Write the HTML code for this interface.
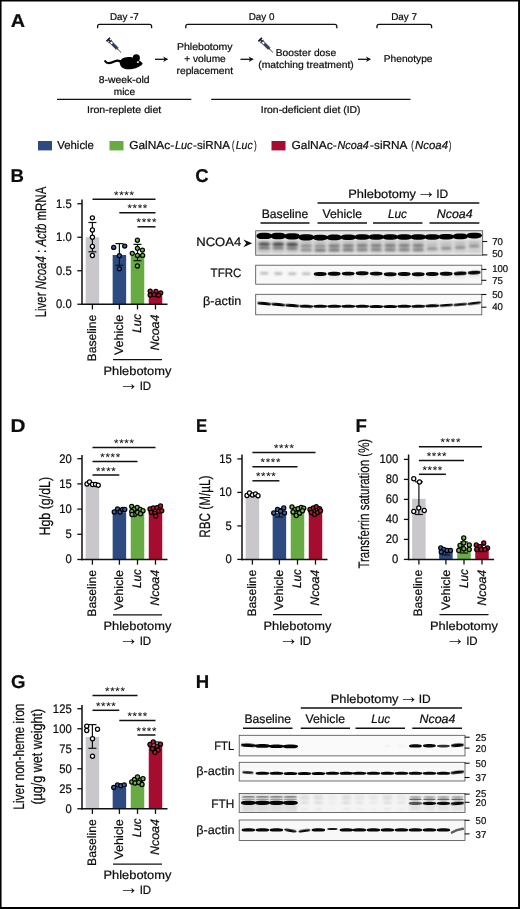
<!DOCTYPE html>
<html lang="en"><head><meta charset="utf-8"><title>Figure</title>
<style>
html,body{margin:0;padding:0;background:#fff;}
body{width:520px;height:909px;overflow:hidden;position:relative;}
svg{display:block;position:absolute;left:0;top:0;}
svg text{font-family:"Liberation Sans", sans-serif;fill:#0d0d0d;text-rendering:geometricPrecision;stroke:#0d0d0d;stroke-width:0.22px;}
</style></head><body>
<svg width="520" height="909" viewBox="0 0 520 909">
<defs><filter id="b1" x="-20%" y="-100%" width="140%" height="300%"><feGaussianBlur stdDeviation="0.75 0.6"/></filter><filter id="b2" x="-20%" y="-100%" width="140%" height="300%"><feGaussianBlur stdDeviation="1.1 0.8"/></filter><filter id="b3" x="-30%" y="-30%" width="160%" height="160%"><feGaussianBlur stdDeviation="1.6 1.4"/></filter><clipPath id="cC1"><rect x="255.7" y="230.75" width="227.0" height="24.44999999999999"/></clipPath><clipPath id="cC2"><rect x="255.7" y="265.2" width="226.2" height="19.0"/></clipPath><clipPath id="cC3"><rect x="255.7" y="294.3" width="226.2" height="20.5"/></clipPath><clipPath id="cH1"><rect x="239.2" y="735.3" width="225.8" height="20.600000000000023"/></clipPath><clipPath id="cH2"><rect x="239.2" y="762.3" width="225.8" height="18.700000000000045"/></clipPath><clipPath id="cH3"><rect x="239.2" y="793.6" width="225.8" height="18.899999999999977"/></clipPath><clipPath id="cH4"><rect x="239.2" y="820" width="225.8" height="20.5"/></clipPath></defs>
<text x="10.80" y="26.60" font-size="18.6" font-weight="bold" textLength="14.30" lengthAdjust="spacingAndGlyphs">A</text>
<text x="110.00" y="19.50" font-size="9.9" textLength="28.75" lengthAdjust="spacingAndGlyphs">Day -7</text>
<text x="248.75" y="19.50" font-size="9.9" textLength="25.75" lengthAdjust="spacingAndGlyphs">Day 0</text>
<text x="391.25" y="19.50" font-size="9.9" textLength="25.75" lengthAdjust="spacingAndGlyphs">Day 7</text>
<path d="M97.60 28.20 V26.30 Q97.60 24.30 99.60 24.30 H149.60 Q151.60 24.30 151.60 26.30 V28.20" fill="none" stroke="#111" stroke-width="1.3"/>
<path d="M185.80 28.20 V26.30 Q185.80 24.30 187.80 24.30 H334.80 Q336.80 24.30 336.80 26.30 V28.20" fill="none" stroke="#111" stroke-width="1.3"/>
<path d="M377.00 28.20 V26.30 Q377.00 24.30 379.00 24.30 H429.60 Q431.60 24.30 431.60 26.30 V28.20" fill="none" stroke="#111" stroke-width="1.3"/>
<g transform="translate(107.10 38.50) rotate(45)"><rect x="0.7" y="-2.5" width="1.9" height="5" rx="0.4" fill="#131a2e"/><rect x="2.5" y="-0.8" width="1.3" height="1.6" fill="#131a2e"/><rect x="3.6" y="-2.2" width="1.2" height="4.4" rx="0.3" fill="#131a2e"/><rect x="4.8" y="-1.3" width="9.2" height="2.6" fill="#fff" stroke="#131a2e" stroke-width="0.8"/><rect x="7.4" y="-1.1" width="6.4" height="2.2" fill="#1f2945"/><rect x="8" y="-0.35" width="5" height="0.7" fill="#46527c"/><rect x="14" y="-0.6" width="1.3" height="1.2" fill="#131a2e"/><rect x="15.2" y="-0.25" width="4.6" height="0.5" fill="#131a2e"/></g>
<g transform="translate(104.30 54.00)" fill="#000"><path d="M0.9 7.2 C2.6 10.2 7 9.0 10.5 7.3 C13.2 6.1 15.6 6.6 17.4 8.6" fill="none" stroke="#000" stroke-width="2.1" stroke-linecap="round"/><path d="M15.5 9.5 C15 5.5 19 3.2 24 3.0 C27 2.9 29 3.5 30.5 4.5 C33.5 5.5 36.5 7.2 38.3 9.2 C38.3 10.6 36.5 11.8 33.5 13.2 C30.5 14.8 26 15.6 22 15.2 C18.5 14.8 16 12.8 15.5 9.5 Z"/><ellipse cx="32" cy="3.9" rx="3.6" ry="3.6"/><ellipse cx="33.6" cy="8.1" rx="1.1" ry="0.9" fill="#fff"/></g>
<line x1="155.00" y1="59.30" x2="167.20" y2="59.30" stroke="#111" stroke-width="1.3" stroke-linecap="butt"/>
<path d="M168.20 59.30 L163.20 56.60 L164.60 59.30 L163.20 62.00 Z" fill="#111"/>
<text x="177.00" y="49.70" font-size="9.9" textLength="55.50" lengthAdjust="spacingAndGlyphs">Phlebotomy</text>
<text x="184.25" y="61.90" font-size="9.9" textLength="41.50" lengthAdjust="spacingAndGlyphs">+ volume</text>
<text x="176.50" y="74.00" font-size="9.9" textLength="56.50" lengthAdjust="spacingAndGlyphs">replacement</text>
<line x1="240.50" y1="59.30" x2="252.70" y2="59.30" stroke="#111" stroke-width="1.3" stroke-linecap="butt"/>
<path d="M253.70 59.30 L248.70 56.60 L250.10 59.30 L248.70 62.00 Z" fill="#111"/>
<g transform="translate(259.00 38.50) rotate(45)"><rect x="0.7" y="-2.5" width="1.9" height="5" rx="0.4" fill="#131a2e"/><rect x="2.5" y="-0.8" width="1.3" height="1.6" fill="#131a2e"/><rect x="3.6" y="-2.2" width="1.2" height="4.4" rx="0.3" fill="#131a2e"/><rect x="4.8" y="-1.3" width="9.2" height="2.6" fill="#fff" stroke="#131a2e" stroke-width="0.8"/><rect x="7.4" y="-1.1" width="6.4" height="2.2" fill="#1f2945"/><rect x="8" y="-0.35" width="5" height="0.7" fill="#46527c"/><rect x="14" y="-0.6" width="1.3" height="1.2" fill="#131a2e"/><rect x="15.2" y="-0.25" width="4.6" height="0.5" fill="#131a2e"/></g>
<text x="275.80" y="55.60" font-size="9.9" textLength="60.30" lengthAdjust="spacingAndGlyphs">Booster dose</text>
<text x="258.25" y="67.80" font-size="9.9" textLength="95.50" lengthAdjust="spacingAndGlyphs">(matching treatment)</text>
<line x1="358.00" y1="59.30" x2="370.00" y2="59.30" stroke="#111" stroke-width="1.3" stroke-linecap="butt"/>
<path d="M371.00 59.30 L366.00 56.60 L367.40 59.30 L366.00 62.00 Z" fill="#111"/>
<text x="383.75" y="61.90" font-size="9.9" textLength="48.75" lengthAdjust="spacingAndGlyphs">Phenotype</text>
<text x="98.75" y="83.00" font-size="9.9" textLength="50.75" lengthAdjust="spacingAndGlyphs">8-week-old</text>
<text x="113.75" y="95.00" font-size="9.9" textLength="21.25" lengthAdjust="spacingAndGlyphs">mice</text>
<line x1="57.00" y1="99.40" x2="191.30" y2="99.40" stroke="#111" stroke-width="1.3" stroke-linecap="butt"/>
<line x1="211.20" y1="99.40" x2="410.50" y2="99.40" stroke="#111" stroke-width="1.3" stroke-linecap="butt"/>
<text x="87.00" y="112.50" font-size="9.9" textLength="74.25" lengthAdjust="spacingAndGlyphs">Iron-replete diet</text>
<text x="260.75" y="112.50" font-size="9.9" textLength="99.75" lengthAdjust="spacingAndGlyphs">Iron-deficient diet (ID)</text>
<rect x="38.00" y="141.00" width="14.00" height="9.40" fill="#2d4b80"/>
<text x="57.30" y="149.30" font-size="11.5" textLength="36.60" lengthAdjust="spacingAndGlyphs">Vehicle</text>
<rect x="109.50" y="141.00" width="14.00" height="9.40" fill="#68ab42"/>
<text x="129.20" y="149.30" font-size="11.5" textLength="44.98" lengthAdjust="spacingAndGlyphs">GalNAc-</text>
<text x="175.10" y="149.30" font-size="11.5" font-style="italic" textLength="17.43" lengthAdjust="spacingAndGlyphs">Luc</text>
<text x="193.10" y="149.30" font-size="11.5" textLength="36.86" lengthAdjust="spacingAndGlyphs">-siRNA</text>
<text x="232.10" y="149.30" font-size="11.5" textLength="2.29" lengthAdjust="spacingAndGlyphs">(</text>
<text x="235.80" y="149.30" font-size="11.5" font-style="italic" textLength="16.82" lengthAdjust="spacingAndGlyphs">Luc</text>
<text x="254.20" y="149.30" font-size="11.5" textLength="2.39" lengthAdjust="spacingAndGlyphs">)</text>
<rect x="271.50" y="141.00" width="14.00" height="9.40" fill="#a60c2f"/>
<text x="291.40" y="149.30" font-size="11.5" textLength="45.28" lengthAdjust="spacingAndGlyphs">GalNAc-</text>
<text x="337.60" y="149.30" font-size="11.5" font-style="italic" textLength="31.11" lengthAdjust="spacingAndGlyphs">Ncoa4</text>
<text x="370.10" y="149.30" font-size="11.5" textLength="37.36" lengthAdjust="spacingAndGlyphs">-siRNA</text>
<text x="411.30" y="149.30" font-size="11.5" textLength="2.39" lengthAdjust="spacingAndGlyphs">(</text>
<text x="415.10" y="149.30" font-size="11.5" font-style="italic" textLength="32.91" lengthAdjust="spacingAndGlyphs">Ncoa4</text>
<text x="449.00" y="149.30" font-size="11.5" textLength="2.29" lengthAdjust="spacingAndGlyphs">)</text>
<text x="10.60" y="181.90" font-size="18.6" font-weight="bold">B</text>
<rect x="85.65" y="237.25" width="13.50" height="67.00" fill="#c9c7cc"/>
<rect x="112.65" y="255.00" width="13.50" height="49.25" fill="#2d4b80"/>
<rect x="130.75" y="255.50" width="13.50" height="48.75" fill="#68ab42"/>
<rect x="148.75" y="294.60" width="13.50" height="9.65" fill="#a60c2f"/>
<line x1="82.00" y1="199.50" x2="82.00" y2="305.00" stroke="#111" stroke-width="1.5" stroke-linecap="butt"/>
<line x1="81.25" y1="304.25" x2="167.50" y2="304.25" stroke="#111" stroke-width="1.5" stroke-linecap="butt"/>
<line x1="77.30" y1="203.75" x2="82.00" y2="203.75" stroke="#111" stroke-width="1.3" stroke-linecap="butt"/>
<text x="71.70" y="207.70" font-size="12.4" text-anchor="end" textLength="15.69" lengthAdjust="spacingAndGlyphs">1.5</text>
<line x1="77.30" y1="237.25" x2="82.00" y2="237.25" stroke="#111" stroke-width="1.3" stroke-linecap="butt"/>
<text x="71.70" y="241.20" font-size="12.4" text-anchor="end" textLength="15.69" lengthAdjust="spacingAndGlyphs">1.0</text>
<line x1="77.30" y1="270.75" x2="82.00" y2="270.75" stroke="#111" stroke-width="1.3" stroke-linecap="butt"/>
<text x="71.70" y="274.70" font-size="12.4" text-anchor="end" textLength="15.69" lengthAdjust="spacingAndGlyphs">0.5</text>
<line x1="77.30" y1="304.25" x2="82.00" y2="304.25" stroke="#111" stroke-width="1.3" stroke-linecap="butt"/>
<text x="71.70" y="308.20" font-size="12.4" text-anchor="end" textLength="15.69" lengthAdjust="spacingAndGlyphs">0.0</text>
<line x1="92.40" y1="304.25" x2="92.40" y2="309.45" stroke="#111" stroke-width="1.3" stroke-linecap="butt"/>
<line x1="119.40" y1="304.25" x2="119.40" y2="309.45" stroke="#111" stroke-width="1.3" stroke-linecap="butt"/>
<line x1="137.50" y1="304.25" x2="137.50" y2="309.45" stroke="#111" stroke-width="1.3" stroke-linecap="butt"/>
<line x1="155.50" y1="304.25" x2="155.50" y2="309.45" stroke="#111" stroke-width="1.3" stroke-linecap="butt"/>
<line x1="92.40" y1="222.50" x2="92.40" y2="251.80" stroke="#111" stroke-width="1.2" stroke-linecap="butt"/>
<line x1="88.40" y1="222.50" x2="96.40" y2="222.50" stroke="#111" stroke-width="1.2" stroke-linecap="butt"/>
<line x1="88.40" y1="251.80" x2="96.40" y2="251.80" stroke="#111" stroke-width="1.2" stroke-linecap="butt"/>
<circle cx="92.40" cy="217.80" r="2.05" fill="#fff" stroke="#000" stroke-width="1.25"/>
<circle cx="92.40" cy="230.00" r="2.05" fill="#fff" stroke="#000" stroke-width="1.25"/>
<circle cx="92.40" cy="237.20" r="2.05" fill="#fff" stroke="#000" stroke-width="1.25"/>
<circle cx="92.40" cy="246.50" r="2.05" fill="#fff" stroke="#000" stroke-width="1.25"/>
<circle cx="92.40" cy="255.50" r="2.05" fill="#fff" stroke="#000" stroke-width="1.25"/>
<line x1="119.40" y1="243.60" x2="119.40" y2="265.30" stroke="#111" stroke-width="1.2" stroke-linecap="butt"/>
<line x1="115.40" y1="243.60" x2="123.40" y2="243.60" stroke="#111" stroke-width="1.2" stroke-linecap="butt"/>
<line x1="115.40" y1="265.30" x2="123.40" y2="265.30" stroke="#111" stroke-width="1.2" stroke-linecap="butt"/>
<circle cx="113.70" cy="247.40" r="2.05" fill="#3a62a8" stroke="#000" stroke-width="1.25"/>
<circle cx="124.70" cy="246.10" r="2.05" fill="#3a62a8" stroke="#000" stroke-width="1.25"/>
<circle cx="119.40" cy="255.70" r="2.05" fill="#3a62a8" stroke="#000" stroke-width="1.25"/>
<circle cx="119.40" cy="268.80" r="2.05" fill="#3a62a8" stroke="#000" stroke-width="1.25"/>
<line x1="137.50" y1="244.40" x2="137.50" y2="260.70" stroke="#111" stroke-width="1.2" stroke-linecap="butt"/>
<line x1="133.50" y1="244.40" x2="141.50" y2="244.40" stroke="#111" stroke-width="1.2" stroke-linecap="butt"/>
<line x1="133.50" y1="260.70" x2="141.50" y2="260.70" stroke="#111" stroke-width="1.2" stroke-linecap="butt"/>
<circle cx="137.40" cy="240.20" r="2.05" fill="#74bb44" stroke="#000" stroke-width="1.25"/>
<circle cx="137.40" cy="248.30" r="2.05" fill="#74bb44" stroke="#000" stroke-width="1.25"/>
<circle cx="142.40" cy="250.10" r="2.05" fill="#74bb44" stroke="#000" stroke-width="1.25"/>
<circle cx="132.30" cy="253.40" r="2.05" fill="#74bb44" stroke="#000" stroke-width="1.25"/>
<circle cx="137.40" cy="255.40" r="2.05" fill="#74bb44" stroke="#000" stroke-width="1.25"/>
<circle cx="142.60" cy="255.40" r="2.05" fill="#74bb44" stroke="#000" stroke-width="1.25"/>
<circle cx="137.40" cy="266.00" r="2.05" fill="#74bb44" stroke="#000" stroke-width="1.25"/>
<circle cx="150.20" cy="291.10" r="2.05" fill="#c4102f" stroke="#000" stroke-width="1.25"/>
<circle cx="155.90" cy="291.50" r="2.05" fill="#c4102f" stroke="#000" stroke-width="1.25"/>
<circle cx="160.70" cy="292.80" r="2.05" fill="#c4102f" stroke="#000" stroke-width="1.25"/>
<circle cx="150.20" cy="295.00" r="2.05" fill="#c4102f" stroke="#000" stroke-width="1.25"/>
<circle cx="154.10" cy="294.60" r="2.05" fill="#c4102f" stroke="#000" stroke-width="1.25"/>
<circle cx="158.50" cy="295.30" r="2.05" fill="#c4102f" stroke="#000" stroke-width="1.25"/>
<line x1="92.50" y1="199.30" x2="155.50" y2="199.30" stroke="#111" stroke-width="1.5" stroke-linecap="butt"/>
<text x="124.30" y="198.80" font-size="11.4" text-anchor="middle" letter-spacing="0.72" style="stroke-width:0.05px">****</text>
<line x1="119.30" y1="212.80" x2="155.50" y2="212.80" stroke="#111" stroke-width="1.5" stroke-linecap="butt"/>
<text x="137.70" y="212.30" font-size="11.4" text-anchor="middle" letter-spacing="0.72" style="stroke-width:0.05px">****</text>
<line x1="137.50" y1="226.80" x2="155.50" y2="226.80" stroke="#111" stroke-width="1.5" stroke-linecap="butt"/>
<text x="146.80" y="226.30" font-size="11.4" text-anchor="middle" letter-spacing="0.72" style="stroke-width:0.05px">****</text>
<text x="96.00" y="314.65" font-size="12.3" text-anchor="end" textLength="46.80" lengthAdjust="spacingAndGlyphs" transform="rotate(-90 96.00 314.65)">Baseline</text>
<text x="123.30" y="314.65" font-size="12.3" text-anchor="end" textLength="40.40" lengthAdjust="spacingAndGlyphs" transform="rotate(-90 123.30 314.65)">Vehicle</text>
<text x="141.40" y="313.85" font-size="12.3" text-anchor="end" font-style="italic" textLength="19.00" lengthAdjust="spacingAndGlyphs" transform="rotate(-90 141.40 313.85)">Luc</text>
<text x="159.40" y="314.55" font-size="12.3" text-anchor="end" font-style="italic" textLength="36.00" lengthAdjust="spacingAndGlyphs" transform="rotate(-90 159.40 314.55)">Ncoa4</text>
<line x1="113.00" y1="359.55" x2="162.00" y2="359.55" stroke="#111" stroke-width="1.3" stroke-linecap="butt"/>
<text x="103.55" y="374.65" font-size="12.1" textLength="67.80" lengthAdjust="spacingAndGlyphs">Phlebotomy</text>
<text x="119.09" y="389.97" font-size="20" textLength="19.43" lengthAdjust="spacingAndGlyphs" style="stroke-width:0">→</text>
<text x="139.65" y="389.85" font-size="12.1" textLength="11.50" lengthAdjust="spacingAndGlyphs">ID</text>
<text x="46" y="317.3" font-size="15.2" transform="rotate(-90 46 317.3)" textLength="130.6" lengthAdjust="spacingAndGlyphs">Liver <tspan font-style="italic">Ncoa4</tspan> : <tspan font-style="italic">Actb</tspan> mRNA</text>
<text x="195.20" y="182.00" font-size="18.6" font-weight="bold">C</text>
<line x1="260.50" y1="223.00" x2="309.50" y2="223.00" stroke="#111" stroke-width="1.5" stroke-linecap="butt"/>
<line x1="317.50" y1="223.00" x2="367.00" y2="223.00" stroke="#111" stroke-width="1.5" stroke-linecap="butt"/>
<line x1="373.00" y1="223.00" x2="422.50" y2="223.00" stroke="#111" stroke-width="1.5" stroke-linecap="butt"/>
<line x1="429.50" y1="223.00" x2="479.30" y2="223.00" stroke="#111" stroke-width="1.5" stroke-linecap="butt"/>
<line x1="317.50" y1="203.00" x2="479.30" y2="203.00" stroke="#111" stroke-width="1.5" stroke-linecap="butt"/>
<text x="261.75" y="218.00" font-size="12.2" textLength="46.50" lengthAdjust="spacingAndGlyphs">Baseline</text>
<text x="322.50" y="218.00" font-size="12.2" textLength="39.50" lengthAdjust="spacingAndGlyphs">Vehicle</text>
<text x="388.00" y="218.00" font-size="12.2" font-style="italic" textLength="19.00" lengthAdjust="spacingAndGlyphs">Luc</text>
<text x="436.75" y="218.00" font-size="12.2" font-style="italic" textLength="35.80" lengthAdjust="spacingAndGlyphs">Ncoa4</text>
<text x="348.25" y="197.50" font-size="12.1" textLength="67.80" lengthAdjust="spacingAndGlyphs">Phlebotomy</text>
<text x="416.49" y="197.62" font-size="20" textLength="19.43" lengthAdjust="spacingAndGlyphs" style="stroke-width:0">→</text>
<text x="436.25" y="197.50" font-size="12.1" textLength="12.00" lengthAdjust="spacingAndGlyphs">ID</text>
<g clip-path="url(#cC1)">
<rect x="255.70" y="230.75" width="227.10" height="24.40" fill="#e4e4e4"/>
<rect x="255.70" y="240.50" width="227.10" height="12.00" fill="#dadada"/>
<rect x="258.70" y="240.00" width="11.00" height="13.00" fill="#000" opacity="0.10" filter="url(#b3)"/>
<rect x="256.40" y="232.75" width="15.60" height="6.30" rx="5.62" ry="3.15" fill="#000" opacity="1.00" filter="url(#b1)"/>
<rect x="258.27" y="242.40" width="11.86" height="3.40" rx="4.27" ry="1.70" fill="#000" opacity="0.62" filter="url(#b2)"/>
<rect x="258.27" y="246.80" width="11.86" height="2.20" rx="4.27" ry="1.10" fill="#000" opacity="0.48" filter="url(#b2)"/>
<rect x="272.70" y="240.00" width="11.00" height="13.00" fill="#000" opacity="0.10" filter="url(#b3)"/>
<rect x="270.40" y="232.85" width="15.60" height="6.30" rx="5.62" ry="3.15" fill="#000" opacity="1.00" filter="url(#b1)"/>
<rect x="272.27" y="242.50" width="11.86" height="3.40" rx="4.27" ry="1.70" fill="#000" opacity="0.62" filter="url(#b2)"/>
<rect x="272.27" y="246.90" width="11.86" height="2.20" rx="4.27" ry="1.10" fill="#000" opacity="0.48" filter="url(#b2)"/>
<rect x="286.70" y="240.00" width="11.00" height="13.00" fill="#000" opacity="0.10" filter="url(#b3)"/>
<rect x="284.40" y="233.15" width="15.60" height="6.30" rx="5.62" ry="3.15" fill="#000" opacity="1.00" filter="url(#b1)"/>
<rect x="286.27" y="242.80" width="11.86" height="3.40" rx="4.27" ry="1.70" fill="#000" opacity="0.62" filter="url(#b2)"/>
<rect x="286.27" y="247.20" width="11.86" height="2.20" rx="4.27" ry="1.10" fill="#000" opacity="0.48" filter="url(#b2)"/>
<rect x="300.70" y="240.00" width="11.00" height="13.00" fill="#000" opacity="0.10" filter="url(#b3)"/>
<rect x="298.40" y="234.15" width="15.60" height="6.30" rx="5.62" ry="3.15" fill="#000" opacity="1.00" filter="url(#b1)"/>
<rect x="300.38" y="244.50" width="11.65" height="2.80" rx="4.19" ry="1.40" fill="#000" opacity="0.28" filter="url(#b2)"/>
<rect x="300.38" y="248.70" width="11.65" height="2.40" rx="4.19" ry="1.20" fill="#000" opacity="0.30" filter="url(#b2)"/>
<rect x="314.70" y="240.00" width="11.00" height="13.00" fill="#000" opacity="0.10" filter="url(#b3)"/>
<rect x="312.40" y="234.80" width="15.60" height="5.60" rx="5.62" ry="2.80" fill="#000" opacity="1.00" filter="url(#b1)"/>
<rect x="314.38" y="244.80" width="11.65" height="2.80" rx="4.19" ry="1.40" fill="#000" opacity="0.28" filter="url(#b2)"/>
<rect x="314.38" y="249.00" width="11.65" height="2.40" rx="4.19" ry="1.20" fill="#000" opacity="0.42" filter="url(#b2)"/>
<rect x="328.70" y="240.00" width="11.00" height="13.00" fill="#000" opacity="0.10" filter="url(#b3)"/>
<rect x="326.40" y="234.60" width="15.60" height="5.60" rx="5.62" ry="2.80" fill="#000" opacity="1.00" filter="url(#b1)"/>
<rect x="328.38" y="244.60" width="11.65" height="2.80" rx="4.19" ry="1.40" fill="#000" opacity="0.40" filter="url(#b2)"/>
<rect x="328.38" y="248.80" width="11.65" height="2.40" rx="4.19" ry="1.20" fill="#000" opacity="0.42" filter="url(#b2)"/>
<rect x="342.70" y="240.00" width="11.00" height="13.00" fill="#000" opacity="0.10" filter="url(#b3)"/>
<rect x="340.40" y="234.40" width="15.60" height="5.60" rx="5.62" ry="2.80" fill="#000" opacity="1.00" filter="url(#b1)"/>
<rect x="342.38" y="244.40" width="11.65" height="2.80" rx="4.19" ry="1.40" fill="#000" opacity="0.40" filter="url(#b2)"/>
<rect x="342.38" y="248.60" width="11.65" height="2.40" rx="4.19" ry="1.20" fill="#000" opacity="0.42" filter="url(#b2)"/>
<rect x="356.70" y="240.00" width="11.00" height="13.00" fill="#000" opacity="0.10" filter="url(#b3)"/>
<rect x="354.40" y="234.20" width="15.60" height="5.60" rx="5.62" ry="2.80" fill="#000" opacity="1.00" filter="url(#b1)"/>
<rect x="356.38" y="244.20" width="11.65" height="2.80" rx="4.19" ry="1.40" fill="#000" opacity="0.40" filter="url(#b2)"/>
<rect x="356.38" y="248.40" width="11.65" height="2.40" rx="4.19" ry="1.20" fill="#000" opacity="0.42" filter="url(#b2)"/>
<rect x="370.70" y="240.00" width="11.00" height="13.00" fill="#000" opacity="0.10" filter="url(#b3)"/>
<rect x="368.40" y="234.20" width="15.60" height="5.60" rx="5.62" ry="2.80" fill="#000" opacity="1.00" filter="url(#b1)"/>
<rect x="370.38" y="244.20" width="11.65" height="2.80" rx="4.19" ry="1.40" fill="#000" opacity="0.40" filter="url(#b2)"/>
<rect x="370.38" y="248.40" width="11.65" height="2.40" rx="4.19" ry="1.20" fill="#000" opacity="0.42" filter="url(#b2)"/>
<rect x="384.70" y="240.00" width="11.00" height="13.00" fill="#000" opacity="0.10" filter="url(#b3)"/>
<rect x="382.40" y="234.20" width="15.60" height="5.60" rx="5.62" ry="2.80" fill="#000" opacity="1.00" filter="url(#b1)"/>
<rect x="384.38" y="244.20" width="11.65" height="2.80" rx="4.19" ry="1.40" fill="#000" opacity="0.40" filter="url(#b2)"/>
<rect x="384.38" y="248.40" width="11.65" height="2.40" rx="4.19" ry="1.20" fill="#000" opacity="0.42" filter="url(#b2)"/>
<rect x="398.70" y="240.00" width="11.00" height="13.00" fill="#000" opacity="0.10" filter="url(#b3)"/>
<rect x="396.40" y="234.20" width="15.60" height="5.60" rx="5.62" ry="2.80" fill="#000" opacity="1.00" filter="url(#b1)"/>
<rect x="398.38" y="244.20" width="11.65" height="2.80" rx="4.19" ry="1.40" fill="#000" opacity="0.40" filter="url(#b2)"/>
<rect x="398.38" y="248.40" width="11.65" height="2.40" rx="4.19" ry="1.20" fill="#000" opacity="0.42" filter="url(#b2)"/>
<rect x="412.70" y="240.00" width="11.00" height="13.00" fill="#000" opacity="0.10" filter="url(#b3)"/>
<rect x="410.40" y="234.20" width="15.60" height="5.60" rx="5.62" ry="2.80" fill="#000" opacity="1.00" filter="url(#b1)"/>
<rect x="412.38" y="244.20" width="11.65" height="2.80" rx="4.19" ry="1.40" fill="#000" opacity="0.40" filter="url(#b2)"/>
<rect x="412.38" y="248.40" width="11.65" height="2.40" rx="4.19" ry="1.20" fill="#000" opacity="0.42" filter="url(#b2)"/>
<rect x="426.70" y="240.00" width="11.00" height="13.00" fill="#000" opacity="0.05" filter="url(#b3)"/>
<rect x="424.40" y="234.20" width="15.60" height="5.60" rx="5.62" ry="2.80" fill="#000" opacity="1.00" filter="url(#b1)"/>
<rect x="426.48" y="244.00" width="11.44" height="2.00" rx="4.12" ry="1.00" fill="#000" opacity="0.10" filter="url(#b2)"/>
<rect x="426.69" y="247.40" width="11.02" height="2.40" rx="3.97" ry="1.20" fill="#000" opacity="0.36" filter="url(#b2)"/>
<rect x="440.70" y="240.00" width="11.00" height="13.00" fill="#000" opacity="0.05" filter="url(#b3)"/>
<rect x="438.40" y="234.00" width="15.60" height="5.60" rx="5.62" ry="2.80" fill="#000" opacity="1.00" filter="url(#b1)"/>
<rect x="440.48" y="243.70" width="11.44" height="2.00" rx="4.12" ry="1.00" fill="#000" opacity="0.10" filter="url(#b2)"/>
<rect x="440.69" y="247.04" width="11.02" height="2.40" rx="3.97" ry="1.20" fill="#000" opacity="0.36" filter="url(#b2)"/>
<rect x="454.70" y="240.00" width="11.00" height="13.00" fill="#000" opacity="0.05" filter="url(#b3)"/>
<rect x="452.40" y="233.60" width="15.60" height="5.60" rx="5.62" ry="2.80" fill="#000" opacity="1.00" filter="url(#b1)"/>
<rect x="454.48" y="243.10" width="11.44" height="2.00" rx="4.12" ry="1.00" fill="#000" opacity="0.10" filter="url(#b2)"/>
<rect x="454.69" y="246.32" width="11.02" height="2.40" rx="3.97" ry="1.20" fill="#000" opacity="0.36" filter="url(#b2)"/>
<rect x="468.70" y="240.00" width="11.00" height="13.00" fill="#000" opacity="0.05" filter="url(#b3)"/>
<rect x="466.40" y="232.80" width="15.60" height="5.60" rx="5.62" ry="2.80" fill="#000" opacity="1.00" filter="url(#b1)"/>
<rect x="468.48" y="241.90" width="11.44" height="2.00" rx="4.12" ry="1.00" fill="#000" opacity="0.10" filter="url(#b2)"/>
<rect x="468.69" y="244.88" width="11.02" height="2.40" rx="3.97" ry="1.20" fill="#000" opacity="0.36" filter="url(#b2)"/>
</g>
<rect x="255.70" y="230.75" width="227.00" height="24.45" fill="none" stroke="#4a4a4a" stroke-width="0.8"/>
<line x1="482.40" y1="241.50" x2="487.30" y2="241.50" stroke="#111" stroke-width="1.1" stroke-linecap="butt"/>
<text x="492.20" y="245.10" font-size="9.9" textLength="10.68" lengthAdjust="spacingAndGlyphs">70</text>
<line x1="482.40" y1="254.90" x2="487.30" y2="254.90" stroke="#111" stroke-width="1.1" stroke-linecap="butt"/>
<text x="492.20" y="256.60" font-size="9.9" textLength="10.68" lengthAdjust="spacingAndGlyphs">50</text>
<text x="196.25" y="246.40" font-size="12.2" textLength="45.00" lengthAdjust="spacingAndGlyphs">NCOA4</text>
<path d="M243.3 239.4 L252.2 243.3 L243.3 247.2 L246.2 243.3 Z" fill="#111"/>
<g clip-path="url(#cC2)">
<rect x="255.70" y="265.00" width="226.10" height="19.40" fill="#f8f8f8"/>
<rect x="259.78" y="272.00" width="8.84" height="2.60" rx="3.18" ry="1.30" fill="#000" opacity="0.26" filter="url(#b2)"/>
<rect x="273.78" y="272.30" width="8.84" height="2.60" rx="3.18" ry="1.30" fill="#000" opacity="0.26" filter="url(#b2)"/>
<rect x="287.78" y="272.50" width="8.84" height="2.60" rx="3.18" ry="1.30" fill="#000" opacity="0.26" filter="url(#b2)"/>
<rect x="301.78" y="272.50" width="8.84" height="2.60" rx="3.18" ry="1.30" fill="#000" opacity="0.26" filter="url(#b2)"/>
<rect x="313.75" y="272.05" width="12.90" height="3.90" rx="4.64" ry="1.95" fill="#000" opacity="0.96" filter="url(#b1)"/>
<rect x="314.70" y="273.00" width="11.00" height="6.00" fill="#000" opacity="0.06" filter="url(#b3)"/>
<rect x="327.75" y="271.85" width="12.90" height="3.90" rx="4.64" ry="1.95" fill="#000" opacity="0.96" filter="url(#b1)"/>
<rect x="328.70" y="272.80" width="11.00" height="6.00" fill="#000" opacity="0.06" filter="url(#b3)"/>
<rect x="341.75" y="271.65" width="12.90" height="3.90" rx="4.64" ry="1.95" fill="#000" opacity="0.96" filter="url(#b1)"/>
<rect x="342.70" y="272.60" width="11.00" height="6.00" fill="#000" opacity="0.06" filter="url(#b3)"/>
<rect x="355.75" y="271.25" width="12.90" height="3.90" rx="4.64" ry="1.95" fill="#000" opacity="0.96" filter="url(#b1)"/>
<rect x="356.70" y="272.20" width="11.00" height="6.00" fill="#000" opacity="0.06" filter="url(#b3)"/>
<rect x="369.75" y="271.65" width="12.90" height="3.90" rx="4.64" ry="1.95" fill="#000" opacity="0.96" filter="url(#b1)"/>
<rect x="370.70" y="272.60" width="11.00" height="6.00" fill="#000" opacity="0.06" filter="url(#b3)"/>
<rect x="383.75" y="272.25" width="12.90" height="3.90" rx="4.64" ry="1.95" fill="#000" opacity="0.96" filter="url(#b1)"/>
<rect x="384.70" y="273.20" width="11.00" height="6.00" fill="#000" opacity="0.06" filter="url(#b3)"/>
<rect x="397.75" y="272.05" width="12.90" height="3.90" rx="4.64" ry="1.95" fill="#000" opacity="0.96" filter="url(#b1)"/>
<rect x="398.70" y="273.00" width="11.00" height="6.00" fill="#000" opacity="0.06" filter="url(#b3)"/>
<rect x="411.75" y="272.25" width="12.90" height="3.90" rx="4.64" ry="1.95" fill="#000" opacity="0.96" filter="url(#b1)"/>
<rect x="412.70" y="273.20" width="11.00" height="6.00" fill="#000" opacity="0.06" filter="url(#b3)"/>
<rect x="425.75" y="272.05" width="12.90" height="3.90" rx="4.64" ry="1.95" fill="#000" opacity="0.96" filter="url(#b1)"/>
<rect x="426.70" y="273.00" width="11.00" height="6.00" fill="#000" opacity="0.06" filter="url(#b3)"/>
<rect x="439.75" y="271.85" width="12.90" height="3.90" rx="4.64" ry="1.95" fill="#000" opacity="0.96" filter="url(#b1)"/>
<rect x="440.70" y="272.80" width="11.00" height="6.00" fill="#000" opacity="0.06" filter="url(#b3)"/>
<rect x="453.75" y="271.45" width="12.90" height="3.90" rx="4.64" ry="1.95" fill="#000" opacity="0.96" filter="url(#b1)" transform="rotate(-3.0 460.20 273.40)"/>
<rect x="454.70" y="272.40" width="11.00" height="6.00" fill="#000" opacity="0.06" filter="url(#b3)"/>
<rect x="467.75" y="270.65" width="12.90" height="3.90" rx="4.64" ry="1.95" fill="#000" opacity="0.96" filter="url(#b1)" transform="rotate(-3.0 474.20 272.60)"/>
<rect x="468.70" y="271.60" width="11.00" height="6.00" fill="#000" opacity="0.06" filter="url(#b3)"/>
</g>
<rect x="255.70" y="265.20" width="226.10" height="19.00" fill="none" stroke="#4a4a4a" stroke-width="0.8"/>
<line x1="481.50" y1="269.40" x2="486.40" y2="269.40" stroke="#111" stroke-width="1.1" stroke-linecap="butt"/>
<text x="492.20" y="272.10" font-size="9.9" textLength="16.02" lengthAdjust="spacingAndGlyphs">100</text>
<line x1="481.50" y1="280.30" x2="486.40" y2="280.30" stroke="#111" stroke-width="1.1" stroke-linecap="butt"/>
<text x="492.20" y="283.90" font-size="9.9" textLength="10.68" lengthAdjust="spacingAndGlyphs">75</text>
<text x="210.60" y="277.30" font-size="12.2" textLength="30.70" lengthAdjust="spacingAndGlyphs">TFRC</text>
<g clip-path="url(#cC3)">
<rect x="255.70" y="294.30" width="226.10" height="20.40" fill="#f9f9f9"/>
<rect x="257.23" y="302.10" width="13.94" height="3.00" rx="5.02" ry="1.50" fill="#000" opacity="0.97" filter="url(#b1)" transform="rotate(5.0 264.20 303.60)"/>
<rect x="271.23" y="303.10" width="13.94" height="3.00" rx="5.02" ry="1.50" fill="#000" opacity="0.97" filter="url(#b1)" transform="rotate(5.0 278.20 304.60)"/>
<rect x="285.23" y="304.00" width="13.94" height="3.00" rx="5.02" ry="1.50" fill="#000" opacity="0.97" filter="url(#b1)" transform="rotate(4.0 292.20 305.50)"/>
<rect x="299.23" y="304.70" width="13.94" height="3.00" rx="5.02" ry="1.50" fill="#000" opacity="0.97" filter="url(#b1)" transform="rotate(2.0 306.20 306.20)"/>
<rect x="313.23" y="304.80" width="13.94" height="3.00" rx="5.02" ry="1.50" fill="#000" opacity="0.97" filter="url(#b1)"/>
<rect x="327.23" y="304.80" width="13.94" height="3.00" rx="5.02" ry="1.50" fill="#000" opacity="0.97" filter="url(#b1)"/>
<rect x="341.23" y="304.80" width="13.94" height="3.00" rx="5.02" ry="1.50" fill="#000" opacity="0.97" filter="url(#b1)"/>
<rect x="355.23" y="304.80" width="13.94" height="3.00" rx="5.02" ry="1.50" fill="#000" opacity="0.97" filter="url(#b1)"/>
<rect x="369.23" y="304.90" width="13.94" height="3.00" rx="5.02" ry="1.50" fill="#000" opacity="0.97" filter="url(#b1)"/>
<rect x="383.23" y="304.90" width="13.94" height="3.00" rx="5.02" ry="1.50" fill="#000" opacity="0.97" filter="url(#b1)"/>
<rect x="397.23" y="304.80" width="13.94" height="3.00" rx="5.02" ry="1.50" fill="#000" opacity="0.97" filter="url(#b1)"/>
<rect x="411.23" y="304.70" width="13.94" height="3.00" rx="5.02" ry="1.50" fill="#000" opacity="0.97" filter="url(#b1)" transform="rotate(-1.0 418.20 306.20)"/>
<rect x="425.23" y="304.30" width="13.94" height="3.00" rx="5.02" ry="1.50" fill="#000" opacity="0.97" filter="url(#b1)" transform="rotate(-2.0 432.20 305.80)"/>
<rect x="439.23" y="303.95" width="13.94" height="2.50" rx="5.02" ry="1.25" fill="#000" opacity="0.97" filter="url(#b1)" transform="rotate(-4.0 446.20 305.20)"/>
<rect x="453.23" y="303.15" width="13.94" height="2.50" rx="5.02" ry="1.25" fill="#000" opacity="0.97" filter="url(#b1)" transform="rotate(-5.0 460.20 304.40)"/>
<rect x="467.23" y="301.95" width="13.94" height="2.50" rx="5.02" ry="1.25" fill="#000" opacity="0.97" filter="url(#b1)" transform="rotate(-7.0 474.20 303.20)"/>
</g>
<rect x="255.70" y="294.30" width="226.10" height="20.50" fill="none" stroke="#4a4a4a" stroke-width="0.8"/>
<line x1="481.50" y1="294.50" x2="486.40" y2="294.50" stroke="#111" stroke-width="1.1" stroke-linecap="butt"/>
<text x="492.20" y="297.90" font-size="9.9" textLength="10.68" lengthAdjust="spacingAndGlyphs">50</text>
<line x1="481.50" y1="307.20" x2="486.40" y2="307.20" stroke="#111" stroke-width="1.1" stroke-linecap="butt"/>
<text x="492.20" y="310.40" font-size="9.9" textLength="10.68" lengthAdjust="spacingAndGlyphs">40</text>
<text x="203" y="304.5" font-size="12.2" textLength="38.25" lengthAdjust="spacingAndGlyphs">β-actin</text>
<text x="10.50" y="432.20" font-size="18.6" font-weight="bold" textLength="15.00" lengthAdjust="spacingAndGlyphs">D</text>
<rect x="85.65" y="486.00" width="13.50" height="73.50" fill="#c9c7cc"/>
<rect x="112.65" y="512.20" width="13.50" height="47.30" fill="#2d4b80"/>
<rect x="130.75" y="511.20" width="13.50" height="48.30" fill="#68ab42"/>
<rect x="148.75" y="511.00" width="13.50" height="48.50" fill="#a60c2f"/>
<line x1="82.00" y1="455.00" x2="82.00" y2="560.25" stroke="#111" stroke-width="1.5" stroke-linecap="butt"/>
<line x1="81.25" y1="559.50" x2="167.50" y2="559.50" stroke="#111" stroke-width="1.5" stroke-linecap="butt"/>
<line x1="77.30" y1="458.70" x2="82.00" y2="458.70" stroke="#111" stroke-width="1.3" stroke-linecap="butt"/>
<text x="71.70" y="462.65" font-size="12.4" text-anchor="end" textLength="12.55" lengthAdjust="spacingAndGlyphs">20</text>
<line x1="77.30" y1="483.90" x2="82.00" y2="483.90" stroke="#111" stroke-width="1.3" stroke-linecap="butt"/>
<text x="71.70" y="487.85" font-size="12.4" text-anchor="end" textLength="12.55" lengthAdjust="spacingAndGlyphs">15</text>
<line x1="77.30" y1="509.10" x2="82.00" y2="509.10" stroke="#111" stroke-width="1.3" stroke-linecap="butt"/>
<text x="71.70" y="513.05" font-size="12.4" text-anchor="end" textLength="12.55" lengthAdjust="spacingAndGlyphs">10</text>
<line x1="77.30" y1="534.30" x2="82.00" y2="534.30" stroke="#111" stroke-width="1.3" stroke-linecap="butt"/>
<text x="71.70" y="538.25" font-size="12.4" text-anchor="end" textLength="6.28" lengthAdjust="spacingAndGlyphs">5</text>
<line x1="77.30" y1="559.50" x2="82.00" y2="559.50" stroke="#111" stroke-width="1.3" stroke-linecap="butt"/>
<text x="71.70" y="563.45" font-size="12.4" text-anchor="end" textLength="6.28" lengthAdjust="spacingAndGlyphs">0</text>
<line x1="92.40" y1="559.50" x2="92.40" y2="564.70" stroke="#111" stroke-width="1.3" stroke-linecap="butt"/>
<line x1="119.40" y1="559.50" x2="119.40" y2="564.70" stroke="#111" stroke-width="1.3" stroke-linecap="butt"/>
<line x1="137.50" y1="559.50" x2="137.50" y2="564.70" stroke="#111" stroke-width="1.3" stroke-linecap="butt"/>
<line x1="155.50" y1="559.50" x2="155.50" y2="564.70" stroke="#111" stroke-width="1.3" stroke-linecap="butt"/>
<circle cx="87.00" cy="484.00" r="2.05" fill="#fff" stroke="#000" stroke-width="1.25"/>
<circle cx="89.50" cy="482.00" r="2.05" fill="#fff" stroke="#000" stroke-width="1.25"/>
<circle cx="92.50" cy="484.50" r="2.05" fill="#fff" stroke="#000" stroke-width="1.25"/>
<circle cx="95.50" cy="484.50" r="2.05" fill="#fff" stroke="#000" stroke-width="1.25"/>
<circle cx="98.25" cy="485.25" r="2.05" fill="#fff" stroke="#000" stroke-width="1.25"/>
<circle cx="114.25" cy="512.00" r="2.05" fill="#3a62a8" stroke="#000" stroke-width="1.25"/>
<circle cx="117.50" cy="509.00" r="2.05" fill="#3a62a8" stroke="#000" stroke-width="1.25"/>
<circle cx="120.00" cy="512.00" r="2.05" fill="#3a62a8" stroke="#000" stroke-width="1.25"/>
<circle cx="122.50" cy="509.50" r="2.05" fill="#3a62a8" stroke="#000" stroke-width="1.25"/>
<circle cx="124.75" cy="509.50" r="2.05" fill="#3a62a8" stroke="#000" stroke-width="1.25"/>
<circle cx="131.75" cy="506.50" r="2.05" fill="#74bb44" stroke="#000" stroke-width="1.25"/>
<circle cx="134.50" cy="509.00" r="2.05" fill="#74bb44" stroke="#000" stroke-width="1.25"/>
<circle cx="137.25" cy="507.50" r="2.05" fill="#74bb44" stroke="#000" stroke-width="1.25"/>
<circle cx="140.25" cy="509.50" r="2.05" fill="#74bb44" stroke="#000" stroke-width="1.25"/>
<circle cx="143.00" cy="510.75" r="2.05" fill="#74bb44" stroke="#000" stroke-width="1.25"/>
<circle cx="131.75" cy="511.50" r="2.05" fill="#74bb44" stroke="#000" stroke-width="1.25"/>
<circle cx="134.50" cy="514.50" r="2.05" fill="#74bb44" stroke="#000" stroke-width="1.25"/>
<circle cx="137.50" cy="512.50" r="2.05" fill="#74bb44" stroke="#000" stroke-width="1.25"/>
<circle cx="140.50" cy="513.75" r="2.05" fill="#74bb44" stroke="#000" stroke-width="1.25"/>
<circle cx="132.00" cy="514.50" r="2.05" fill="#74bb44" stroke="#000" stroke-width="1.25"/>
<circle cx="150.00" cy="509.00" r="2.05" fill="#c4102f" stroke="#000" stroke-width="1.25"/>
<circle cx="153.25" cy="508.00" r="2.05" fill="#c4102f" stroke="#000" stroke-width="1.25"/>
<circle cx="157.00" cy="507.75" r="2.05" fill="#c4102f" stroke="#000" stroke-width="1.25"/>
<circle cx="160.50" cy="506.00" r="2.05" fill="#c4102f" stroke="#000" stroke-width="1.25"/>
<circle cx="151.25" cy="512.25" r="2.05" fill="#c4102f" stroke="#000" stroke-width="1.25"/>
<circle cx="155.00" cy="513.00" r="2.05" fill="#c4102f" stroke="#000" stroke-width="1.25"/>
<circle cx="158.75" cy="511.25" r="2.05" fill="#c4102f" stroke="#000" stroke-width="1.25"/>
<circle cx="161.75" cy="510.75" r="2.05" fill="#c4102f" stroke="#000" stroke-width="1.25"/>
<circle cx="155.75" cy="516.00" r="2.05" fill="#c4102f" stroke="#000" stroke-width="1.25"/>
<line x1="92.50" y1="447.60" x2="155.50" y2="447.60" stroke="#111" stroke-width="1.5" stroke-linecap="butt"/>
<text x="124.30" y="447.10" font-size="11.4" text-anchor="middle" letter-spacing="0.72" style="stroke-width:0.05px">****</text>
<line x1="92.50" y1="461.40" x2="137.50" y2="461.40" stroke="#111" stroke-width="1.5" stroke-linecap="butt"/>
<text x="110.60" y="460.90" font-size="11.4" text-anchor="middle" letter-spacing="0.72" style="stroke-width:0.05px">****</text>
<line x1="92.50" y1="475.00" x2="119.30" y2="475.00" stroke="#111" stroke-width="1.5" stroke-linecap="butt"/>
<text x="106.20" y="474.50" font-size="11.4" text-anchor="middle" letter-spacing="0.72" style="stroke-width:0.05px">****</text>
<text x="96.00" y="569.90" font-size="12.3" text-anchor="end" textLength="46.80" lengthAdjust="spacingAndGlyphs" transform="rotate(-90 96.00 569.90)">Baseline</text>
<text x="123.30" y="569.90" font-size="12.3" text-anchor="end" textLength="40.40" lengthAdjust="spacingAndGlyphs" transform="rotate(-90 123.30 569.90)">Vehicle</text>
<text x="141.40" y="569.10" font-size="12.3" text-anchor="end" font-style="italic" textLength="19.00" lengthAdjust="spacingAndGlyphs" transform="rotate(-90 141.40 569.10)">Luc</text>
<text x="159.40" y="569.80" font-size="12.3" text-anchor="end" font-style="italic" textLength="36.00" lengthAdjust="spacingAndGlyphs" transform="rotate(-90 159.40 569.80)">Ncoa4</text>
<line x1="113.00" y1="614.80" x2="162.00" y2="614.80" stroke="#111" stroke-width="1.3" stroke-linecap="butt"/>
<text x="103.55" y="629.90" font-size="12.1" textLength="67.80" lengthAdjust="spacingAndGlyphs">Phlebotomy</text>
<text x="119.09" y="645.22" font-size="20" textLength="19.43" lengthAdjust="spacingAndGlyphs" style="stroke-width:0">→</text>
<text x="139.65" y="645.10" font-size="12.1" textLength="11.50" lengthAdjust="spacingAndGlyphs">ID</text>
<text x="49.60" y="535.50" font-size="15.2" textLength="58.60" lengthAdjust="spacingAndGlyphs" transform="rotate(-90 49.60 535.50)">Hgb (g/dL)</text>
<text x="195.90" y="432.30" font-size="18.6" font-weight="bold" textLength="11.20" lengthAdjust="spacingAndGlyphs">E</text>
<rect x="245.65" y="495.80" width="13.50" height="63.60" fill="#c9c7cc"/>
<rect x="272.65" y="513.00" width="13.50" height="46.40" fill="#2d4b80"/>
<rect x="290.75" y="511.30" width="13.50" height="48.10" fill="#68ab42"/>
<rect x="308.75" y="510.50" width="13.50" height="48.90" fill="#a60c2f"/>
<line x1="242.00" y1="454.50" x2="242.00" y2="560.15" stroke="#111" stroke-width="1.5" stroke-linecap="butt"/>
<line x1="241.25" y1="559.40" x2="327.50" y2="559.40" stroke="#111" stroke-width="1.5" stroke-linecap="butt"/>
<line x1="237.30" y1="458.90" x2="242.00" y2="458.90" stroke="#111" stroke-width="1.3" stroke-linecap="butt"/>
<text x="231.70" y="462.85" font-size="12.4" text-anchor="end" textLength="12.55" lengthAdjust="spacingAndGlyphs">15</text>
<line x1="237.30" y1="492.40" x2="242.00" y2="492.40" stroke="#111" stroke-width="1.3" stroke-linecap="butt"/>
<text x="231.70" y="496.35" font-size="12.4" text-anchor="end" textLength="12.55" lengthAdjust="spacingAndGlyphs">10</text>
<line x1="237.30" y1="525.90" x2="242.00" y2="525.90" stroke="#111" stroke-width="1.3" stroke-linecap="butt"/>
<text x="231.70" y="529.85" font-size="12.4" text-anchor="end" textLength="6.28" lengthAdjust="spacingAndGlyphs">5</text>
<line x1="237.30" y1="559.40" x2="242.00" y2="559.40" stroke="#111" stroke-width="1.3" stroke-linecap="butt"/>
<text x="231.70" y="563.35" font-size="12.4" text-anchor="end" textLength="6.28" lengthAdjust="spacingAndGlyphs">0</text>
<line x1="252.40" y1="559.40" x2="252.40" y2="564.60" stroke="#111" stroke-width="1.3" stroke-linecap="butt"/>
<line x1="279.40" y1="559.40" x2="279.40" y2="564.60" stroke="#111" stroke-width="1.3" stroke-linecap="butt"/>
<line x1="297.50" y1="559.40" x2="297.50" y2="564.60" stroke="#111" stroke-width="1.3" stroke-linecap="butt"/>
<line x1="315.50" y1="559.40" x2="315.50" y2="564.60" stroke="#111" stroke-width="1.3" stroke-linecap="butt"/>
<circle cx="247.00" cy="495.50" r="2.05" fill="#fff" stroke="#000" stroke-width="1.25"/>
<circle cx="249.50" cy="493.00" r="2.05" fill="#fff" stroke="#000" stroke-width="1.25"/>
<circle cx="252.50" cy="495.00" r="2.05" fill="#fff" stroke="#000" stroke-width="1.25"/>
<circle cx="255.50" cy="494.00" r="2.05" fill="#fff" stroke="#000" stroke-width="1.25"/>
<circle cx="258.00" cy="495.75" r="2.05" fill="#fff" stroke="#000" stroke-width="1.25"/>
<line x1="279.40" y1="508.50" x2="279.40" y2="517.00" stroke="#111" stroke-width="1.2" stroke-linecap="butt"/>
<line x1="275.40" y1="508.50" x2="283.40" y2="508.50" stroke="#111" stroke-width="1.2" stroke-linecap="butt"/>
<line x1="275.40" y1="517.00" x2="283.40" y2="517.00" stroke="#111" stroke-width="1.2" stroke-linecap="butt"/>
<circle cx="273.75" cy="513.00" r="2.05" fill="#3a62a8" stroke="#000" stroke-width="1.25"/>
<circle cx="277.50" cy="509.50" r="2.05" fill="#3a62a8" stroke="#000" stroke-width="1.25"/>
<circle cx="280.50" cy="511.25" r="2.05" fill="#3a62a8" stroke="#000" stroke-width="1.25"/>
<circle cx="283.75" cy="508.00" r="2.05" fill="#3a62a8" stroke="#000" stroke-width="1.25"/>
<circle cx="284.50" cy="513.00" r="2.05" fill="#3a62a8" stroke="#000" stroke-width="1.25"/>
<line x1="297.50" y1="507.80" x2="297.50" y2="515.00" stroke="#111" stroke-width="1.2" stroke-linecap="butt"/>
<line x1="293.50" y1="507.80" x2="301.50" y2="507.80" stroke="#111" stroke-width="1.2" stroke-linecap="butt"/>
<line x1="293.50" y1="515.00" x2="301.50" y2="515.00" stroke="#111" stroke-width="1.2" stroke-linecap="butt"/>
<circle cx="292.00" cy="507.00" r="2.05" fill="#74bb44" stroke="#000" stroke-width="1.25"/>
<circle cx="295.00" cy="509.50" r="2.05" fill="#74bb44" stroke="#000" stroke-width="1.25"/>
<circle cx="298.00" cy="508.75" r="2.05" fill="#74bb44" stroke="#000" stroke-width="1.25"/>
<circle cx="301.25" cy="507.50" r="2.05" fill="#74bb44" stroke="#000" stroke-width="1.25"/>
<circle cx="303.75" cy="508.25" r="2.05" fill="#74bb44" stroke="#000" stroke-width="1.25"/>
<circle cx="293.00" cy="512.00" r="2.05" fill="#74bb44" stroke="#000" stroke-width="1.25"/>
<circle cx="296.25" cy="515.50" r="2.05" fill="#74bb44" stroke="#000" stroke-width="1.25"/>
<circle cx="299.50" cy="513.00" r="2.05" fill="#74bb44" stroke="#000" stroke-width="1.25"/>
<circle cx="302.50" cy="510.75" r="2.05" fill="#74bb44" stroke="#000" stroke-width="1.25"/>
<line x1="315.50" y1="507.00" x2="315.50" y2="514.00" stroke="#111" stroke-width="1.2" stroke-linecap="butt"/>
<line x1="311.50" y1="507.00" x2="319.50" y2="507.00" stroke="#111" stroke-width="1.2" stroke-linecap="butt"/>
<line x1="311.50" y1="514.00" x2="319.50" y2="514.00" stroke="#111" stroke-width="1.2" stroke-linecap="butt"/>
<circle cx="310.00" cy="509.50" r="2.05" fill="#c4102f" stroke="#000" stroke-width="1.25"/>
<circle cx="313.25" cy="508.00" r="2.05" fill="#c4102f" stroke="#000" stroke-width="1.25"/>
<circle cx="316.25" cy="506.75" r="2.05" fill="#c4102f" stroke="#000" stroke-width="1.25"/>
<circle cx="319.50" cy="508.75" r="2.05" fill="#c4102f" stroke="#000" stroke-width="1.25"/>
<circle cx="311.25" cy="512.50" r="2.05" fill="#c4102f" stroke="#000" stroke-width="1.25"/>
<circle cx="314.50" cy="514.50" r="2.05" fill="#c4102f" stroke="#000" stroke-width="1.25"/>
<circle cx="317.50" cy="512.50" r="2.05" fill="#c4102f" stroke="#000" stroke-width="1.25"/>
<circle cx="320.50" cy="510.75" r="2.05" fill="#c4102f" stroke="#000" stroke-width="1.25"/>
<line x1="252.40" y1="452.60" x2="315.50" y2="452.60" stroke="#111" stroke-width="1.5" stroke-linecap="butt"/>
<text x="284.25" y="452.10" font-size="11.4" text-anchor="middle" letter-spacing="0.72" style="stroke-width:0.05px">****</text>
<line x1="252.40" y1="466.80" x2="297.50" y2="466.80" stroke="#111" stroke-width="1.5" stroke-linecap="butt"/>
<text x="270.85" y="466.30" font-size="11.4" text-anchor="middle" letter-spacing="0.72" style="stroke-width:0.05px">****</text>
<line x1="252.40" y1="480.80" x2="279.40" y2="480.80" stroke="#111" stroke-width="1.5" stroke-linecap="butt"/>
<text x="266.20" y="480.30" font-size="11.4" text-anchor="middle" letter-spacing="0.72" style="stroke-width:0.05px">****</text>
<text x="256.00" y="569.80" font-size="12.3" text-anchor="end" textLength="46.80" lengthAdjust="spacingAndGlyphs" transform="rotate(-90 256.00 569.80)">Baseline</text>
<text x="283.30" y="569.80" font-size="12.3" text-anchor="end" textLength="40.40" lengthAdjust="spacingAndGlyphs" transform="rotate(-90 283.30 569.80)">Vehicle</text>
<text x="301.40" y="569.00" font-size="12.3" text-anchor="end" font-style="italic" textLength="19.00" lengthAdjust="spacingAndGlyphs" transform="rotate(-90 301.40 569.00)">Luc</text>
<text x="319.40" y="569.70" font-size="12.3" text-anchor="end" font-style="italic" textLength="36.00" lengthAdjust="spacingAndGlyphs" transform="rotate(-90 319.40 569.70)">Ncoa4</text>
<line x1="273.00" y1="614.70" x2="322.00" y2="614.70" stroke="#111" stroke-width="1.3" stroke-linecap="butt"/>
<text x="263.55" y="629.80" font-size="12.1" textLength="67.80" lengthAdjust="spacingAndGlyphs">Phlebotomy</text>
<text x="279.09" y="645.12" font-size="20" textLength="19.43" lengthAdjust="spacingAndGlyphs" style="stroke-width:0">→</text>
<text x="299.65" y="645.00" font-size="12.1" textLength="11.50" lengthAdjust="spacingAndGlyphs">ID</text>
<text x="209.60" y="537.70" font-size="15.2" textLength="62.00" lengthAdjust="spacingAndGlyphs" transform="rotate(-90 209.60 537.70)">RBC (M/µL)</text>
<text x="355.60" y="432.30" font-size="18.6" font-weight="bold">F</text>
<rect x="412.15" y="498.80" width="13.50" height="60.60" fill="#c9c7cc"/>
<rect x="439.15" y="552.00" width="13.50" height="7.40" fill="#2d4b80"/>
<rect x="457.25" y="547.50" width="13.50" height="11.90" fill="#68ab42"/>
<rect x="475.25" y="548.00" width="13.50" height="11.40" fill="#a60c2f"/>
<line x1="408.60" y1="454.50" x2="408.60" y2="560.15" stroke="#111" stroke-width="1.5" stroke-linecap="butt"/>
<line x1="407.85" y1="559.40" x2="494.10" y2="559.40" stroke="#111" stroke-width="1.5" stroke-linecap="butt"/>
<line x1="403.90" y1="459.40" x2="408.60" y2="459.40" stroke="#111" stroke-width="1.3" stroke-linecap="butt"/>
<text x="398.30" y="463.35" font-size="12.4" text-anchor="end" textLength="18.83" lengthAdjust="spacingAndGlyphs">100</text>
<line x1="403.90" y1="479.40" x2="408.60" y2="479.40" stroke="#111" stroke-width="1.3" stroke-linecap="butt"/>
<text x="398.30" y="483.35" font-size="12.4" text-anchor="end" textLength="12.55" lengthAdjust="spacingAndGlyphs">80</text>
<line x1="403.90" y1="499.40" x2="408.60" y2="499.40" stroke="#111" stroke-width="1.3" stroke-linecap="butt"/>
<text x="398.30" y="503.35" font-size="12.4" text-anchor="end" textLength="12.55" lengthAdjust="spacingAndGlyphs">60</text>
<line x1="403.90" y1="519.40" x2="408.60" y2="519.40" stroke="#111" stroke-width="1.3" stroke-linecap="butt"/>
<text x="398.30" y="523.35" font-size="12.4" text-anchor="end" textLength="12.55" lengthAdjust="spacingAndGlyphs">40</text>
<line x1="403.90" y1="539.40" x2="408.60" y2="539.40" stroke="#111" stroke-width="1.3" stroke-linecap="butt"/>
<text x="398.30" y="543.35" font-size="12.4" text-anchor="end" textLength="12.55" lengthAdjust="spacingAndGlyphs">20</text>
<line x1="403.90" y1="559.40" x2="408.60" y2="559.40" stroke="#111" stroke-width="1.3" stroke-linecap="butt"/>
<text x="398.30" y="563.35" font-size="12.4" text-anchor="end" textLength="6.28" lengthAdjust="spacingAndGlyphs">0</text>
<line x1="418.90" y1="559.40" x2="418.90" y2="564.60" stroke="#111" stroke-width="1.3" stroke-linecap="butt"/>
<line x1="445.90" y1="559.40" x2="445.90" y2="564.60" stroke="#111" stroke-width="1.3" stroke-linecap="butt"/>
<line x1="464.00" y1="559.40" x2="464.00" y2="564.60" stroke="#111" stroke-width="1.3" stroke-linecap="butt"/>
<line x1="482.00" y1="559.40" x2="482.00" y2="564.60" stroke="#111" stroke-width="1.3" stroke-linecap="butt"/>
<line x1="418.90" y1="481.80" x2="418.90" y2="514.50" stroke="#111" stroke-width="1.2" stroke-linecap="butt"/>
<line x1="414.90" y1="481.80" x2="422.90" y2="481.80" stroke="#111" stroke-width="1.2" stroke-linecap="butt"/>
<line x1="414.90" y1="514.50" x2="422.90" y2="514.50" stroke="#111" stroke-width="1.2" stroke-linecap="butt"/>
<circle cx="413.75" cy="478.75" r="2.05" fill="#fff" stroke="#000" stroke-width="1.25"/>
<circle cx="419.50" cy="482.00" r="2.05" fill="#fff" stroke="#000" stroke-width="1.25"/>
<circle cx="418.75" cy="508.00" r="2.05" fill="#fff" stroke="#000" stroke-width="1.25"/>
<circle cx="413.75" cy="511.50" r="2.05" fill="#fff" stroke="#000" stroke-width="1.25"/>
<circle cx="424.25" cy="510.50" r="2.05" fill="#fff" stroke="#000" stroke-width="1.25"/>
<line x1="445.90" y1="549.00" x2="445.90" y2="555.00" stroke="#111" stroke-width="1.2" stroke-linecap="butt"/>
<line x1="441.90" y1="549.00" x2="449.90" y2="549.00" stroke="#111" stroke-width="1.2" stroke-linecap="butt"/>
<line x1="441.90" y1="555.00" x2="449.90" y2="555.00" stroke="#111" stroke-width="1.2" stroke-linecap="butt"/>
<circle cx="440.75" cy="548.00" r="2.05" fill="#3a62a8" stroke="#000" stroke-width="1.25"/>
<circle cx="443.75" cy="549.50" r="2.05" fill="#3a62a8" stroke="#000" stroke-width="1.25"/>
<circle cx="447.00" cy="550.50" r="2.05" fill="#3a62a8" stroke="#000" stroke-width="1.25"/>
<circle cx="450.50" cy="550.50" r="2.05" fill="#3a62a8" stroke="#000" stroke-width="1.25"/>
<circle cx="441.25" cy="552.00" r="2.05" fill="#3a62a8" stroke="#000" stroke-width="1.25"/>
<line x1="464.00" y1="542.00" x2="464.00" y2="553.00" stroke="#111" stroke-width="1.2" stroke-linecap="butt"/>
<line x1="460.00" y1="542.00" x2="468.00" y2="542.00" stroke="#111" stroke-width="1.2" stroke-linecap="butt"/>
<line x1="460.00" y1="553.00" x2="468.00" y2="553.00" stroke="#111" stroke-width="1.2" stroke-linecap="butt"/>
<circle cx="463.75" cy="538.00" r="2.05" fill="#74bb44" stroke="#000" stroke-width="1.25"/>
<circle cx="460.00" cy="545.50" r="2.05" fill="#74bb44" stroke="#000" stroke-width="1.25"/>
<circle cx="463.75" cy="543.00" r="2.05" fill="#74bb44" stroke="#000" stroke-width="1.25"/>
<circle cx="469.25" cy="545.00" r="2.05" fill="#74bb44" stroke="#000" stroke-width="1.25"/>
<circle cx="458.75" cy="550.50" r="2.05" fill="#74bb44" stroke="#000" stroke-width="1.25"/>
<circle cx="463.75" cy="548.75" r="2.05" fill="#74bb44" stroke="#000" stroke-width="1.25"/>
<circle cx="469.25" cy="549.50" r="2.05" fill="#74bb44" stroke="#000" stroke-width="1.25"/>
<line x1="482.00" y1="545.00" x2="482.00" y2="551.50" stroke="#111" stroke-width="1.2" stroke-linecap="butt"/>
<line x1="478.00" y1="545.00" x2="486.00" y2="545.00" stroke="#111" stroke-width="1.2" stroke-linecap="butt"/>
<line x1="478.00" y1="551.50" x2="486.00" y2="551.50" stroke="#111" stroke-width="1.2" stroke-linecap="butt"/>
<circle cx="476.25" cy="545.00" r="2.05" fill="#c4102f" stroke="#000" stroke-width="1.25"/>
<circle cx="483.75" cy="543.00" r="2.05" fill="#c4102f" stroke="#000" stroke-width="1.25"/>
<circle cx="480.00" cy="546.75" r="2.05" fill="#c4102f" stroke="#000" stroke-width="1.25"/>
<circle cx="487.50" cy="548.00" r="2.05" fill="#c4102f" stroke="#000" stroke-width="1.25"/>
<circle cx="476.75" cy="549.50" r="2.05" fill="#c4102f" stroke="#000" stroke-width="1.25"/>
<circle cx="481.25" cy="549.50" r="2.05" fill="#c4102f" stroke="#000" stroke-width="1.25"/>
<circle cx="485.00" cy="549.50" r="2.05" fill="#c4102f" stroke="#000" stroke-width="1.25"/>
<line x1="418.90" y1="446.80" x2="482.00" y2="446.80" stroke="#111" stroke-width="1.5" stroke-linecap="butt"/>
<text x="450.75" y="446.30" font-size="11.4" text-anchor="middle" letter-spacing="0.72" style="stroke-width:0.05px">****</text>
<line x1="418.90" y1="460.60" x2="464.00" y2="460.60" stroke="#111" stroke-width="1.5" stroke-linecap="butt"/>
<text x="436.95" y="460.10" font-size="11.4" text-anchor="middle" letter-spacing="0.72" style="stroke-width:0.05px">****</text>
<line x1="418.90" y1="474.30" x2="445.90" y2="474.30" stroke="#111" stroke-width="1.5" stroke-linecap="butt"/>
<text x="432.70" y="473.80" font-size="11.4" text-anchor="middle" letter-spacing="0.72" style="stroke-width:0.05px">****</text>
<text x="422.50" y="569.80" font-size="12.3" text-anchor="end" textLength="46.80" lengthAdjust="spacingAndGlyphs" transform="rotate(-90 422.50 569.80)">Baseline</text>
<text x="449.80" y="569.80" font-size="12.3" text-anchor="end" textLength="40.40" lengthAdjust="spacingAndGlyphs" transform="rotate(-90 449.80 569.80)">Vehicle</text>
<text x="467.90" y="569.00" font-size="12.3" text-anchor="end" font-style="italic" textLength="19.00" lengthAdjust="spacingAndGlyphs" transform="rotate(-90 467.90 569.00)">Luc</text>
<text x="485.90" y="569.70" font-size="12.3" text-anchor="end" font-style="italic" textLength="36.00" lengthAdjust="spacingAndGlyphs" transform="rotate(-90 485.90 569.70)">Ncoa4</text>
<line x1="439.50" y1="614.70" x2="488.50" y2="614.70" stroke="#111" stroke-width="1.3" stroke-linecap="butt"/>
<text x="430.05" y="629.80" font-size="12.1" textLength="67.80" lengthAdjust="spacingAndGlyphs">Phlebotomy</text>
<text x="445.59" y="645.12" font-size="20" textLength="19.43" lengthAdjust="spacingAndGlyphs" style="stroke-width:0">→</text>
<text x="466.15" y="645.00" font-size="12.1" textLength="11.50" lengthAdjust="spacingAndGlyphs">ID</text>
<text x="368.90" y="568.60" font-size="15.2" textLength="129.80" lengthAdjust="spacingAndGlyphs" transform="rotate(-90 368.90 568.60)">Transferrin saturation (%)</text>
<text x="11.00" y="687.50" font-size="18.6" font-weight="bold">G</text>
<rect x="85.65" y="737.00" width="13.50" height="71.75" fill="#c9c7cc"/>
<rect x="112.65" y="787.50" width="13.50" height="21.25" fill="#2d4b80"/>
<rect x="130.75" y="782.00" width="13.50" height="26.75" fill="#68ab42"/>
<rect x="148.75" y="745.50" width="13.50" height="63.25" fill="#a60c2f"/>
<line x1="82.00" y1="705.00" x2="82.00" y2="809.50" stroke="#111" stroke-width="1.5" stroke-linecap="butt"/>
<line x1="81.25" y1="808.75" x2="167.50" y2="808.75" stroke="#111" stroke-width="1.5" stroke-linecap="butt"/>
<line x1="77.30" y1="708.75" x2="82.00" y2="708.75" stroke="#111" stroke-width="1.3" stroke-linecap="butt"/>
<text x="71.70" y="712.70" font-size="12.4" text-anchor="end" textLength="18.83" lengthAdjust="spacingAndGlyphs">125</text>
<line x1="77.30" y1="728.75" x2="82.00" y2="728.75" stroke="#111" stroke-width="1.3" stroke-linecap="butt"/>
<text x="71.70" y="732.70" font-size="12.4" text-anchor="end" textLength="18.83" lengthAdjust="spacingAndGlyphs">100</text>
<line x1="77.30" y1="748.75" x2="82.00" y2="748.75" stroke="#111" stroke-width="1.3" stroke-linecap="butt"/>
<text x="71.70" y="752.70" font-size="12.4" text-anchor="end" textLength="12.55" lengthAdjust="spacingAndGlyphs">75</text>
<line x1="77.30" y1="768.75" x2="82.00" y2="768.75" stroke="#111" stroke-width="1.3" stroke-linecap="butt"/>
<text x="71.70" y="772.70" font-size="12.4" text-anchor="end" textLength="12.55" lengthAdjust="spacingAndGlyphs">50</text>
<line x1="77.30" y1="788.75" x2="82.00" y2="788.75" stroke="#111" stroke-width="1.3" stroke-linecap="butt"/>
<text x="71.70" y="792.70" font-size="12.4" text-anchor="end" textLength="12.55" lengthAdjust="spacingAndGlyphs">25</text>
<line x1="77.30" y1="808.75" x2="82.00" y2="808.75" stroke="#111" stroke-width="1.3" stroke-linecap="butt"/>
<text x="71.70" y="812.70" font-size="12.4" text-anchor="end" textLength="6.28" lengthAdjust="spacingAndGlyphs">0</text>
<line x1="92.40" y1="808.75" x2="92.40" y2="813.95" stroke="#111" stroke-width="1.3" stroke-linecap="butt"/>
<line x1="119.40" y1="808.75" x2="119.40" y2="813.95" stroke="#111" stroke-width="1.3" stroke-linecap="butt"/>
<line x1="137.50" y1="808.75" x2="137.50" y2="813.95" stroke="#111" stroke-width="1.3" stroke-linecap="butt"/>
<line x1="155.50" y1="808.75" x2="155.50" y2="813.95" stroke="#111" stroke-width="1.3" stroke-linecap="butt"/>
<line x1="92.40" y1="724.60" x2="92.40" y2="748.30" stroke="#111" stroke-width="1.2" stroke-linecap="butt"/>
<line x1="88.40" y1="724.60" x2="96.40" y2="724.60" stroke="#111" stroke-width="1.2" stroke-linecap="butt"/>
<line x1="88.40" y1="748.30" x2="96.40" y2="748.30" stroke="#111" stroke-width="1.2" stroke-linecap="butt"/>
<circle cx="86.75" cy="726.25" r="2.05" fill="#fff" stroke="#000" stroke-width="1.25"/>
<circle cx="86.75" cy="730.50" r="2.05" fill="#fff" stroke="#000" stroke-width="1.25"/>
<circle cx="97.50" cy="729.25" r="2.05" fill="#fff" stroke="#000" stroke-width="1.25"/>
<circle cx="92.50" cy="738.75" r="2.05" fill="#fff" stroke="#000" stroke-width="1.25"/>
<circle cx="92.50" cy="756.25" r="2.05" fill="#fff" stroke="#000" stroke-width="1.25"/>
<circle cx="113.75" cy="787.50" r="2.05" fill="#3a62a8" stroke="#000" stroke-width="1.25"/>
<circle cx="117.50" cy="785.00" r="2.05" fill="#3a62a8" stroke="#000" stroke-width="1.25"/>
<circle cx="120.75" cy="785.75" r="2.05" fill="#3a62a8" stroke="#000" stroke-width="1.25"/>
<circle cx="124.25" cy="785.00" r="2.05" fill="#3a62a8" stroke="#000" stroke-width="1.25"/>
<circle cx="131.75" cy="782.00" r="2.05" fill="#74bb44" stroke="#000" stroke-width="1.25"/>
<circle cx="134.50" cy="779.50" r="2.05" fill="#74bb44" stroke="#000" stroke-width="1.25"/>
<circle cx="137.50" cy="777.00" r="2.05" fill="#74bb44" stroke="#000" stroke-width="1.25"/>
<circle cx="140.50" cy="780.00" r="2.05" fill="#74bb44" stroke="#000" stroke-width="1.25"/>
<circle cx="143.00" cy="778.75" r="2.05" fill="#74bb44" stroke="#000" stroke-width="1.25"/>
<circle cx="135.00" cy="783.00" r="2.05" fill="#74bb44" stroke="#000" stroke-width="1.25"/>
<circle cx="138.75" cy="782.50" r="2.05" fill="#74bb44" stroke="#000" stroke-width="1.25"/>
<circle cx="142.00" cy="784.50" r="2.05" fill="#74bb44" stroke="#000" stroke-width="1.25"/>
<line x1="155.50" y1="742.00" x2="155.50" y2="749.00" stroke="#111" stroke-width="1.2" stroke-linecap="butt"/>
<line x1="151.50" y1="742.00" x2="159.50" y2="742.00" stroke="#111" stroke-width="1.2" stroke-linecap="butt"/>
<line x1="151.50" y1="749.00" x2="159.50" y2="749.00" stroke="#111" stroke-width="1.2" stroke-linecap="butt"/>
<circle cx="150.00" cy="744.50" r="2.05" fill="#c4102f" stroke="#000" stroke-width="1.25"/>
<circle cx="153.25" cy="742.00" r="2.05" fill="#c4102f" stroke="#000" stroke-width="1.25"/>
<circle cx="157.00" cy="746.25" r="2.05" fill="#c4102f" stroke="#000" stroke-width="1.25"/>
<circle cx="160.50" cy="744.25" r="2.05" fill="#c4102f" stroke="#000" stroke-width="1.25"/>
<circle cx="152.50" cy="748.75" r="2.05" fill="#c4102f" stroke="#000" stroke-width="1.25"/>
<circle cx="158.00" cy="750.00" r="2.05" fill="#c4102f" stroke="#000" stroke-width="1.25"/>
<circle cx="155.00" cy="752.50" r="2.05" fill="#c4102f" stroke="#000" stroke-width="1.25"/>
<line x1="92.50" y1="695.50" x2="137.50" y2="695.50" stroke="#111" stroke-width="1.5" stroke-linecap="butt"/>
<text x="115.30" y="695.00" font-size="11.4" text-anchor="middle" letter-spacing="0.72" style="stroke-width:0.05px">****</text>
<line x1="92.50" y1="710.30" x2="119.30" y2="710.30" stroke="#111" stroke-width="1.5" stroke-linecap="butt"/>
<text x="106.20" y="709.80" font-size="11.4" text-anchor="middle" letter-spacing="0.72" style="stroke-width:0.05px">****</text>
<line x1="119.30" y1="720.50" x2="155.50" y2="720.50" stroke="#111" stroke-width="1.5" stroke-linecap="butt"/>
<text x="137.70" y="720.00" font-size="11.4" text-anchor="middle" letter-spacing="0.72" style="stroke-width:0.05px">****</text>
<line x1="137.50" y1="735.00" x2="155.50" y2="735.00" stroke="#111" stroke-width="1.5" stroke-linecap="butt"/>
<text x="146.80" y="734.50" font-size="11.4" text-anchor="middle" letter-spacing="0.72" style="stroke-width:0.05px">****</text>
<text x="96.00" y="819.15" font-size="12.3" text-anchor="end" textLength="46.80" lengthAdjust="spacingAndGlyphs" transform="rotate(-90 96.00 819.15)">Baseline</text>
<text x="123.30" y="819.15" font-size="12.3" text-anchor="end" textLength="40.40" lengthAdjust="spacingAndGlyphs" transform="rotate(-90 123.30 819.15)">Vehicle</text>
<text x="141.40" y="818.35" font-size="12.3" text-anchor="end" font-style="italic" textLength="19.00" lengthAdjust="spacingAndGlyphs" transform="rotate(-90 141.40 818.35)">Luc</text>
<text x="159.40" y="819.05" font-size="12.3" text-anchor="end" font-style="italic" textLength="36.00" lengthAdjust="spacingAndGlyphs" transform="rotate(-90 159.40 819.05)">Ncoa4</text>
<line x1="113.00" y1="864.05" x2="162.00" y2="864.05" stroke="#111" stroke-width="1.3" stroke-linecap="butt"/>
<text x="103.55" y="879.15" font-size="12.1" textLength="67.80" lengthAdjust="spacingAndGlyphs">Phlebotomy</text>
<text x="119.09" y="894.47" font-size="20" textLength="19.43" lengthAdjust="spacingAndGlyphs" style="stroke-width:0">→</text>
<text x="139.65" y="894.35" font-size="12.1" textLength="11.50" lengthAdjust="spacingAndGlyphs">ID</text>
<text x="24.20" y="809.70" font-size="15.2" textLength="106.20" lengthAdjust="spacingAndGlyphs" transform="rotate(-90 24.20 809.70)">Liver non-heme iron</text>
<text x="41.90" y="804.60" font-size="15.2" textLength="95.80" lengthAdjust="spacingAndGlyphs" transform="rotate(-90 41.90 804.60)">(µg/g wet weight)</text>
<text x="195.70" y="687.50" font-size="18.6" font-weight="bold">H</text>
<line x1="243.00" y1="728.30" x2="292.50" y2="728.30" stroke="#111" stroke-width="1.5" stroke-linecap="butt"/>
<line x1="300.75" y1="728.30" x2="350.00" y2="728.30" stroke="#111" stroke-width="1.5" stroke-linecap="butt"/>
<line x1="355.50" y1="728.30" x2="405.00" y2="728.30" stroke="#111" stroke-width="1.5" stroke-linecap="butt"/>
<line x1="412.30" y1="728.30" x2="462.00" y2="728.30" stroke="#111" stroke-width="1.5" stroke-linecap="butt"/>
<line x1="300.75" y1="708.00" x2="462.00" y2="708.00" stroke="#111" stroke-width="1.5" stroke-linecap="butt"/>
<text x="244.50" y="723.25" font-size="12.2" textLength="46.50" lengthAdjust="spacingAndGlyphs">Baseline</text>
<text x="305.50" y="723.25" font-size="12.2" textLength="39.50" lengthAdjust="spacingAndGlyphs">Vehicle</text>
<text x="371.25" y="723.25" font-size="12.2" font-style="italic" textLength="19.00" lengthAdjust="spacingAndGlyphs">Luc</text>
<text x="419.50" y="723.25" font-size="12.2" font-style="italic" textLength="35.80" lengthAdjust="spacingAndGlyphs">Ncoa4</text>
<text x="330.75" y="702.50" font-size="12.1" textLength="67.80" lengthAdjust="spacingAndGlyphs">Phlebotomy</text>
<text x="398.99" y="702.62" font-size="20" textLength="19.43" lengthAdjust="spacingAndGlyphs" style="stroke-width:0">→</text>
<text x="418.75" y="702.50" font-size="12.1" textLength="12.00" lengthAdjust="spacingAndGlyphs">ID</text>
<g clip-path="url(#cH1)">
<rect x="239.20" y="735.30" width="225.80" height="20.60" fill="#fafafa"/>
<rect x="240.81" y="743.50" width="15.18" height="3.60" rx="5.47" ry="1.80" fill="#000" opacity="0.98" filter="url(#b1)" transform="rotate(3.0 248.40 745.30)"/>
<rect x="254.81" y="744.10" width="15.18" height="3.60" rx="5.47" ry="1.80" fill="#000" opacity="0.98" filter="url(#b1)"/>
<rect x="268.81" y="744.40" width="15.18" height="3.60" rx="5.47" ry="1.80" fill="#000" opacity="0.98" filter="url(#b1)"/>
<rect x="282.81" y="744.60" width="15.18" height="3.60" rx="5.47" ry="1.80" fill="#000" opacity="0.98" filter="url(#b1)"/>
<rect x="383.76" y="744.90" width="7.28" height="1.40" rx="2.62" ry="0.70" fill="#000" opacity="0.07" filter="url(#b2)"/>
<rect x="397.76" y="744.90" width="7.28" height="1.40" rx="2.62" ry="0.70" fill="#000" opacity="0.07" filter="url(#b2)"/>
<rect x="408.95" y="744.20" width="12.90" height="3.40" rx="4.64" ry="1.70" fill="#000" opacity="0.97" filter="url(#b1)"/>
<rect x="422.95" y="744.00" width="12.90" height="3.40" rx="4.64" ry="1.70" fill="#000" opacity="0.95" filter="url(#b1)"/>
<rect x="436.95" y="744.70" width="12.90" height="2.80" rx="4.64" ry="1.40" fill="#000" opacity="0.80" filter="url(#b1)"/>
<rect x="450.95" y="743.50" width="12.90" height="3.40" rx="4.64" ry="1.70" fill="#000" opacity="0.97" filter="url(#b1)" transform="rotate(-4.0 457.40 745.20)"/>
</g>
<rect x="239.20" y="735.30" width="225.80" height="20.60" fill="none" stroke="#4a4a4a" stroke-width="0.8"/>
<line x1="464.70" y1="737.20" x2="469.60" y2="737.20" stroke="#111" stroke-width="1.1" stroke-linecap="butt"/>
<text x="475.60" y="740.90" font-size="9.9" textLength="10.68" lengthAdjust="spacingAndGlyphs">25</text>
<line x1="464.70" y1="748.10" x2="469.60" y2="748.10" stroke="#111" stroke-width="1.1" stroke-linecap="butt"/>
<text x="475.60" y="751.80" font-size="9.9" textLength="10.68" lengthAdjust="spacingAndGlyphs">20</text>
<text x="214.25" y="749.50" font-size="12.2" textLength="20.00" lengthAdjust="spacingAndGlyphs">FTL</text>
<g clip-path="url(#cH2)">
<rect x="239.20" y="762.30" width="225.80" height="18.70" fill="#f8f8f8"/>
<rect x="242.18" y="771.30" width="11.44" height="2.40" rx="4.12" ry="1.20" fill="#000" opacity="0.92" filter="url(#b1)" transform="rotate(3.0 247.90 772.50)"/>
<rect x="255.59" y="771.70" width="13.62" height="3.00" rx="4.90" ry="1.50" fill="#000" opacity="0.97" filter="url(#b1)"/>
<rect x="269.59" y="771.70" width="13.62" height="3.00" rx="4.90" ry="1.50" fill="#000" opacity="0.97" filter="url(#b1)"/>
<rect x="283.59" y="772.00" width="13.62" height="3.00" rx="4.90" ry="1.50" fill="#000" opacity="0.97" filter="url(#b1)"/>
<rect x="297.59" y="772.00" width="13.62" height="3.00" rx="4.90" ry="1.50" fill="#000" opacity="0.97" filter="url(#b1)"/>
<rect x="311.59" y="772.00" width="13.62" height="3.00" rx="4.90" ry="1.50" fill="#000" opacity="0.97" filter="url(#b1)"/>
<rect x="325.59" y="771.70" width="13.62" height="3.00" rx="4.90" ry="1.50" fill="#000" opacity="0.97" filter="url(#b1)"/>
<rect x="339.59" y="771.70" width="13.62" height="3.00" rx="4.90" ry="1.50" fill="#000" opacity="0.97" filter="url(#b1)"/>
<rect x="352.59" y="771.70" width="13.62" height="3.00" rx="4.90" ry="1.50" fill="#000" opacity="0.97" filter="url(#b1)"/>
<rect x="366.59" y="771.70" width="13.62" height="3.00" rx="4.90" ry="1.50" fill="#000" opacity="0.97" filter="url(#b1)"/>
<rect x="380.59" y="771.70" width="13.62" height="3.00" rx="4.90" ry="1.50" fill="#000" opacity="0.97" filter="url(#b1)"/>
<rect x="394.59" y="771.70" width="13.62" height="3.00" rx="4.90" ry="1.50" fill="#000" opacity="0.97" filter="url(#b1)"/>
<rect x="408.59" y="771.70" width="13.62" height="3.00" rx="4.90" ry="1.50" fill="#000" opacity="0.97" filter="url(#b1)"/>
<rect x="422.59" y="771.70" width="13.62" height="3.00" rx="4.90" ry="1.50" fill="#000" opacity="0.97" filter="url(#b1)"/>
<rect x="436.59" y="771.70" width="13.62" height="3.00" rx="4.90" ry="1.50" fill="#000" opacity="0.97" filter="url(#b1)"/>
<rect x="450.59" y="770.80" width="13.62" height="3.00" rx="4.90" ry="1.50" fill="#000" opacity="0.97" filter="url(#b1)" transform="rotate(-6.0 457.40 772.30)"/>
</g>
<rect x="239.20" y="762.30" width="225.80" height="18.70" fill="none" stroke="#4a4a4a" stroke-width="0.8"/>
<line x1="464.70" y1="763.20" x2="469.60" y2="763.20" stroke="#111" stroke-width="1.1" stroke-linecap="butt"/>
<text x="475.60" y="766.80" font-size="9.9" textLength="10.68" lengthAdjust="spacingAndGlyphs">50</text>
<line x1="464.70" y1="777.50" x2="469.60" y2="777.50" stroke="#111" stroke-width="1.1" stroke-linecap="butt"/>
<text x="475.60" y="781.10" font-size="9.9" textLength="10.68" lengthAdjust="spacingAndGlyphs">37</text>
<text x="196.25" y="774.5" font-size="12.2" textLength="38.25" lengthAdjust="spacingAndGlyphs">β-actin</text>
<g clip-path="url(#cH3)">
<rect x="239.20" y="793.60" width="225.80" height="19.00" fill="#f4f4f4"/>
<rect x="241.90" y="794.00" width="13.00" height="18.00" fill="#000" opacity="0.10" filter="url(#b3)"/>
<rect x="241.64" y="796.25" width="13.52" height="1.30" rx="4.87" ry="0.65" fill="#000" opacity="0.50" filter="url(#b1)"/>
<rect x="241.64" y="798.75" width="13.52" height="1.10" rx="4.87" ry="0.55" fill="#000" opacity="0.40" filter="url(#b1)"/>
<rect x="240.91" y="800.70" width="14.98" height="4.20" rx="5.39" ry="2.10" fill="#000" opacity="0.98" filter="url(#b1)"/>
<rect x="255.90" y="794.00" width="13.00" height="18.00" fill="#000" opacity="0.10" filter="url(#b3)"/>
<rect x="255.64" y="796.25" width="13.52" height="1.30" rx="4.87" ry="0.65" fill="#000" opacity="0.50" filter="url(#b1)"/>
<rect x="255.64" y="798.75" width="13.52" height="1.10" rx="4.87" ry="0.55" fill="#000" opacity="0.40" filter="url(#b1)"/>
<rect x="254.91" y="800.70" width="14.98" height="4.20" rx="5.39" ry="2.10" fill="#000" opacity="0.98" filter="url(#b1)"/>
<rect x="269.90" y="794.00" width="13.00" height="18.00" fill="#000" opacity="0.10" filter="url(#b3)"/>
<rect x="269.64" y="796.25" width="13.52" height="1.30" rx="4.87" ry="0.65" fill="#000" opacity="0.50" filter="url(#b1)"/>
<rect x="269.64" y="798.75" width="13.52" height="1.10" rx="4.87" ry="0.55" fill="#000" opacity="0.40" filter="url(#b1)"/>
<rect x="268.91" y="800.70" width="14.98" height="4.20" rx="5.39" ry="2.10" fill="#000" opacity="0.98" filter="url(#b1)"/>
<rect x="283.90" y="794.00" width="13.00" height="18.00" fill="#000" opacity="0.10" filter="url(#b3)"/>
<rect x="283.64" y="796.25" width="13.52" height="1.30" rx="4.87" ry="0.65" fill="#000" opacity="0.50" filter="url(#b1)"/>
<rect x="283.64" y="798.75" width="13.52" height="1.10" rx="4.87" ry="0.55" fill="#000" opacity="0.40" filter="url(#b1)"/>
<rect x="282.91" y="800.70" width="14.98" height="4.20" rx="5.39" ry="2.10" fill="#000" opacity="0.98" filter="url(#b1)"/>
<rect x="299.90" y="795.00" width="9.00" height="5.00" fill="#000" opacity="0.09" filter="url(#b3)"/>
<rect x="299.72" y="802.00" width="9.36" height="1.60" rx="3.37" ry="0.80" fill="#000" opacity="0.16" filter="url(#b2)"/>
<rect x="300.24" y="808.60" width="8.32" height="1.40" rx="3.00" ry="0.70" fill="#000" opacity="0.08" filter="url(#b2)"/>
<rect x="313.90" y="795.00" width="9.00" height="5.00" fill="#000" opacity="0.09" filter="url(#b3)"/>
<rect x="313.72" y="802.00" width="9.36" height="1.60" rx="3.37" ry="0.80" fill="#000" opacity="0.16" filter="url(#b2)"/>
<rect x="314.24" y="808.60" width="8.32" height="1.40" rx="3.00" ry="0.70" fill="#000" opacity="0.08" filter="url(#b2)"/>
<rect x="327.90" y="795.00" width="9.00" height="5.00" fill="#000" opacity="0.03" filter="url(#b3)"/>
<rect x="327.72" y="802.00" width="9.36" height="1.60" rx="3.37" ry="0.80" fill="#000" opacity="0.05" filter="url(#b2)"/>
<rect x="328.24" y="808.60" width="8.32" height="1.40" rx="3.00" ry="0.70" fill="#000" opacity="0.02" filter="url(#b2)"/>
<rect x="341.90" y="795.00" width="9.00" height="5.00" fill="#000" opacity="0.09" filter="url(#b3)"/>
<rect x="341.72" y="802.00" width="9.36" height="1.60" rx="3.37" ry="0.80" fill="#000" opacity="0.16" filter="url(#b2)"/>
<rect x="342.24" y="808.60" width="8.32" height="1.40" rx="3.00" ry="0.70" fill="#000" opacity="0.08" filter="url(#b2)"/>
<rect x="354.90" y="795.00" width="9.00" height="5.00" fill="#000" opacity="0.06" filter="url(#b3)"/>
<rect x="354.72" y="802.00" width="9.36" height="1.60" rx="3.37" ry="0.80" fill="#000" opacity="0.11" filter="url(#b2)"/>
<rect x="355.24" y="808.60" width="8.32" height="1.40" rx="3.00" ry="0.70" fill="#000" opacity="0.06" filter="url(#b2)"/>
<rect x="368.90" y="795.00" width="9.00" height="5.00" fill="#000" opacity="0.05" filter="url(#b3)"/>
<rect x="368.72" y="802.00" width="9.36" height="1.60" rx="3.37" ry="0.80" fill="#000" opacity="0.08" filter="url(#b2)"/>
<rect x="369.24" y="808.60" width="8.32" height="1.40" rx="3.00" ry="0.70" fill="#000" opacity="0.04" filter="url(#b2)"/>
<rect x="382.90" y="795.00" width="9.00" height="5.00" fill="#000" opacity="0.09" filter="url(#b3)"/>
<rect x="382.72" y="802.00" width="9.36" height="1.60" rx="3.37" ry="0.80" fill="#000" opacity="0.16" filter="url(#b2)"/>
<rect x="383.24" y="808.60" width="8.32" height="1.40" rx="3.00" ry="0.70" fill="#000" opacity="0.08" filter="url(#b2)"/>
<rect x="396.90" y="795.00" width="9.00" height="5.00" fill="#000" opacity="0.05" filter="url(#b3)"/>
<rect x="396.72" y="802.00" width="9.36" height="1.60" rx="3.37" ry="0.80" fill="#000" opacity="0.10" filter="url(#b2)"/>
<rect x="397.24" y="808.60" width="8.32" height="1.40" rx="3.00" ry="0.70" fill="#000" opacity="0.05" filter="url(#b2)"/>
<rect x="409.40" y="795.00" width="12.00" height="16.00" fill="#000" opacity="0.07" filter="url(#b3)"/>
<rect x="409.16" y="796.35" width="12.48" height="1.30" rx="4.49" ry="0.65" fill="#000" opacity="0.28" filter="url(#b1)"/>
<rect x="408.95" y="798.45" width="12.90" height="1.70" rx="4.64" ry="0.85" fill="#000" opacity="0.55" filter="url(#b1)"/>
<rect x="408.64" y="801.70" width="13.52" height="3.20" rx="4.87" ry="1.60" fill="#000" opacity="0.62" filter="url(#b1)"/>
<rect x="423.40" y="795.00" width="12.00" height="16.00" fill="#000" opacity="0.07" filter="url(#b3)"/>
<rect x="423.16" y="796.35" width="12.48" height="1.30" rx="4.49" ry="0.65" fill="#000" opacity="0.28" filter="url(#b1)"/>
<rect x="422.95" y="798.45" width="12.90" height="1.70" rx="4.64" ry="0.85" fill="#000" opacity="0.55" filter="url(#b1)"/>
<rect x="422.64" y="801.70" width="13.52" height="3.20" rx="4.87" ry="1.60" fill="#000" opacity="0.97" filter="url(#b1)"/>
<rect x="437.40" y="795.00" width="12.00" height="16.00" fill="#000" opacity="0.07" filter="url(#b3)"/>
<rect x="437.16" y="796.35" width="12.48" height="1.30" rx="4.49" ry="0.65" fill="#000" opacity="0.28" filter="url(#b1)"/>
<rect x="436.95" y="798.45" width="12.90" height="1.70" rx="4.64" ry="0.85" fill="#000" opacity="0.55" filter="url(#b1)"/>
<rect x="436.64" y="801.70" width="13.52" height="3.20" rx="4.87" ry="1.60" fill="#000" opacity="0.95" filter="url(#b1)"/>
<rect x="451.40" y="795.00" width="12.00" height="16.00" fill="#000" opacity="0.07" filter="url(#b3)"/>
<rect x="451.16" y="796.35" width="12.48" height="1.30" rx="4.49" ry="0.65" fill="#000" opacity="0.28" filter="url(#b1)"/>
<rect x="450.95" y="798.45" width="12.90" height="1.70" rx="4.64" ry="0.85" fill="#000" opacity="0.55" filter="url(#b1)"/>
<rect x="450.64" y="801.70" width="13.52" height="3.20" rx="4.87" ry="1.60" fill="#000" opacity="0.97" filter="url(#b1)" transform="rotate(-4.0 457.40 803.30)"/>
</g>
<rect x="239.20" y="793.60" width="225.80" height="18.90" fill="none" stroke="#4a4a4a" stroke-width="0.8"/>
<line x1="464.70" y1="794.10" x2="469.60" y2="794.10" stroke="#111" stroke-width="1.1" stroke-linecap="butt"/>
<text x="475.60" y="797.40" font-size="9.9" textLength="10.68" lengthAdjust="spacingAndGlyphs">25</text>
<line x1="464.70" y1="802.30" x2="469.60" y2="802.30" stroke="#111" stroke-width="1.1" stroke-linecap="butt"/>
<text x="475.60" y="805.90" font-size="9.9" textLength="10.68" lengthAdjust="spacingAndGlyphs">20</text>
<text x="211.25" y="807.50" font-size="12.2" textLength="23.00" lengthAdjust="spacingAndGlyphs">FTH</text>
<g clip-path="url(#cH4)">
<rect x="239.20" y="820.00" width="225.80" height="20.50" fill="#f8f8f8"/>
<rect x="241.59" y="828.30" width="13.62" height="3.20" rx="4.90" ry="1.60" fill="#000" opacity="0.97" filter="url(#b1)"/>
<rect x="255.59" y="828.30" width="13.62" height="3.20" rx="4.90" ry="1.60" fill="#000" opacity="0.97" filter="url(#b1)"/>
<rect x="269.59" y="828.30" width="13.62" height="3.20" rx="4.90" ry="1.60" fill="#000" opacity="0.97" filter="url(#b1)"/>
<rect x="284.16" y="829.20" width="12.48" height="2.80" rx="4.49" ry="1.40" fill="#000" opacity="0.97" filter="url(#b1)" transform="rotate(10.0 290.40 830.60)"/>
<rect x="298.42" y="829.50" width="11.96" height="2.60" rx="4.31" ry="1.30" fill="#000" opacity="0.95" filter="url(#b1)" transform="rotate(-8.0 304.40 830.80)"/>
<rect x="311.59" y="828.30" width="13.62" height="3.20" rx="4.90" ry="1.60" fill="#000" opacity="0.97" filter="url(#b1)"/>
<rect x="327.20" y="828.00" width="10.40" height="2.00" rx="3.74" ry="1.00" fill="#000" opacity="0.90" filter="url(#b1)"/>
<rect x="339.59" y="828.30" width="13.62" height="3.20" rx="4.90" ry="1.60" fill="#000" opacity="0.97" filter="url(#b1)"/>
<rect x="352.59" y="828.30" width="13.62" height="3.20" rx="4.90" ry="1.60" fill="#000" opacity="0.97" filter="url(#b1)"/>
<rect x="366.59" y="828.30" width="13.62" height="3.20" rx="4.90" ry="1.60" fill="#000" opacity="0.97" filter="url(#b1)"/>
<rect x="380.59" y="828.30" width="13.62" height="3.20" rx="4.90" ry="1.60" fill="#000" opacity="0.97" filter="url(#b1)"/>
<rect x="394.59" y="828.30" width="13.62" height="3.20" rx="4.90" ry="1.60" fill="#000" opacity="0.97" filter="url(#b1)"/>
<rect x="408.59" y="828.30" width="13.62" height="3.20" rx="4.90" ry="1.60" fill="#000" opacity="0.97" filter="url(#b1)"/>
<rect x="422.59" y="828.30" width="13.62" height="3.20" rx="4.90" ry="1.60" fill="#000" opacity="0.97" filter="url(#b1)"/>
<rect x="436.59" y="828.30" width="13.62" height="3.20" rx="4.90" ry="1.60" fill="#000" opacity="0.97" filter="url(#b1)"/>
<path d="M451.90 832.6 Q456.40 829.6 462.90 828.8" stroke="#000" stroke-width="2.4" fill="none" opacity="0.62" filter="url(#b1)" stroke-linecap="round"/>
</g>
<rect x="239.20" y="820.00" width="225.80" height="20.50" fill="none" stroke="#4a4a4a" stroke-width="0.8"/>
<line x1="464.70" y1="820.30" x2="469.60" y2="820.30" stroke="#111" stroke-width="1.1" stroke-linecap="butt"/>
<text x="475.60" y="824.00" font-size="9.9" textLength="10.68" lengthAdjust="spacingAndGlyphs">50</text>
<line x1="464.70" y1="833.90" x2="469.60" y2="833.90" stroke="#111" stroke-width="1.1" stroke-linecap="butt"/>
<text x="475.60" y="837.90" font-size="9.9" textLength="10.68" lengthAdjust="spacingAndGlyphs">37</text>
<text x="196.25" y="833.75" font-size="12.2" textLength="38.25" lengthAdjust="spacingAndGlyphs">β-actin</text>
<path d="M0 0H520V909H0Z M1.55 1.55V907.1H518.1V1.55Z" fill="#000" fill-rule="evenodd"/>
</svg>
</body></html>
